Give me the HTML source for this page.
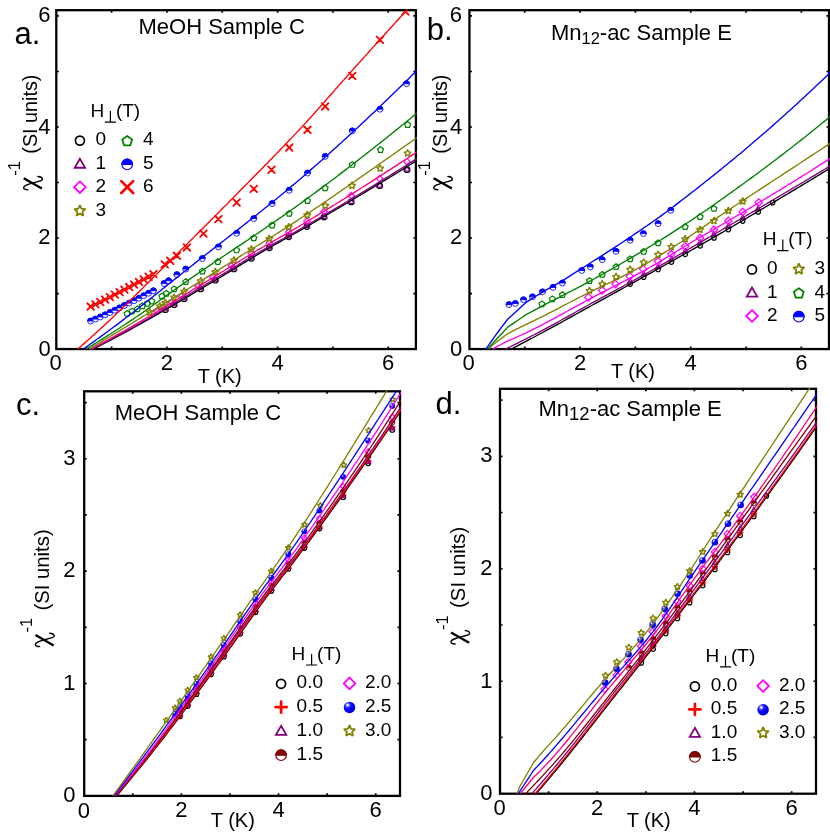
<!DOCTYPE html>
<html><head><meta charset="utf-8"><title>Inverse susceptibility</title>
<style>
html,body{margin:0;padding:0;background:#fff;}
body{width:830px;height:834px;overflow:hidden;font-family:"Liberation Sans", sans-serif;}
svg{display:block;}
</style></head><body>
<div id="fig" style="will-change:transform;width:830px;height:834px">
<svg width="830" height="834" viewBox="0 0 830 834" font-family='"Liberation Sans", sans-serif' fill="#000">
<defs><radialGradient id="ball" cx="0.34" cy="0.30" r="0.8"><stop offset="0" stop-color="#ffffff"/><stop offset="0.1" stop-color="#d0d0ff"/><stop offset="0.26" stop-color="#3030ff"/><stop offset="0.5" stop-color="#0000ff"/><stop offset="1" stop-color="#0000d8"/></radialGradient>
<clipPath id="clipa"><rect x="56.3" y="10.2" width="359.6" height="338.85"/></clipPath>
<clipPath id="clipoa"><rect x="55.4" y="9.3" width="361.4" height="340.65"/></clipPath>
<clipPath id="clipb"><rect x="469.45" y="10.2" width="359.55" height="338.85"/></clipPath>
<clipPath id="clipob"><rect x="468.55" y="9.3" width="361.35" height="340.65"/></clipPath>
<clipPath id="clipc"><rect x="84.2" y="391.3" width="315.8" height="404.6"/></clipPath>
<clipPath id="clipoc"><rect x="83.3" y="390.4" width="317.6" height="406.4"/></clipPath>
<clipPath id="clipd"><rect x="500" y="388.8" width="316" height="404.9"/></clipPath>
<clipPath id="clipod"><rect x="499.1" y="387.9" width="317.8" height="406.7"/></clipPath>
</defs>
<g clip-path="url(#clipa)">
<circle cx="165.29" cy="309.77" r="2.77" fill="none" stroke="#000000" stroke-width="1.16"/>
<circle cx="174.14" cy="304.63" r="2.77" fill="none" stroke="#000000" stroke-width="1.16"/>
<circle cx="184.1" cy="298.79" r="2.77" fill="none" stroke="#000000" stroke-width="1.16"/>
<circle cx="200.69" cy="288.98" r="2.77" fill="none" stroke="#000000" stroke-width="1.16"/>
<circle cx="215.35" cy="280.27" r="2.77" fill="none" stroke="#000000" stroke-width="1.16"/>
<circle cx="233.89" cy="269" r="2.77" fill="none" stroke="#000000" stroke-width="1.16"/>
<circle cx="251.31" cy="258.35" r="2.77" fill="none" stroke="#000000" stroke-width="1.16"/>
<circle cx="269.29" cy="247.78" r="2.77" fill="none" stroke="#000000" stroke-width="1.16"/>
<circle cx="288.66" cy="236.87" r="2.77" fill="none" stroke="#000000" stroke-width="1.16"/>
<circle cx="306.91" cy="226.59" r="2.77" fill="none" stroke="#000000" stroke-width="1.16"/>
<circle cx="324.06" cy="217.1" r="2.77" fill="none" stroke="#000000" stroke-width="1.16"/>
<circle cx="351.17" cy="201.91" r="2.77" fill="none" stroke="#000000" stroke-width="1.16"/>
<circle cx="379.66" cy="185.65" r="2.77" fill="none" stroke="#000000" stroke-width="1.16"/>
<circle cx="407.05" cy="169.7" r="2.77" fill="none" stroke="#000000" stroke-width="1.16"/>
<polygon points="165.29,306.18 162.5,311 168.07,311" fill="none" stroke="#800080" stroke-width="1.22" stroke-linejoin="miter"/>
<polygon points="174.14,300.91 171.35,305.74 176.92,305.74" fill="none" stroke="#800080" stroke-width="1.22" stroke-linejoin="miter"/>
<polygon points="184.1,294.95 181.31,299.77 186.88,299.77" fill="none" stroke="#800080" stroke-width="1.22" stroke-linejoin="miter"/>
<polygon points="200.69,284.97 197.91,289.8 203.48,289.8" fill="none" stroke="#800080" stroke-width="1.22" stroke-linejoin="miter"/>
<polygon points="215.35,276.2 212.57,281.02 218.14,281.02" fill="none" stroke="#800080" stroke-width="1.22" stroke-linejoin="miter"/>
<polygon points="233.89,264.95 231.1,269.77 236.67,269.77" fill="none" stroke="#800080" stroke-width="1.22" stroke-linejoin="miter"/>
<polygon points="251.31,254.44 248.53,259.26 254.1,259.26" fill="none" stroke="#800080" stroke-width="1.22" stroke-linejoin="miter"/>
<polygon points="269.29,244.02 266.51,248.84 272.08,248.84" fill="none" stroke="#800080" stroke-width="1.22" stroke-linejoin="miter"/>
<polygon points="288.66,233.2 285.87,238.02 291.44,238.02" fill="none" stroke="#800080" stroke-width="1.22" stroke-linejoin="miter"/>
<polygon points="306.91,222.91 304.13,227.73 309.7,227.73" fill="none" stroke="#800080" stroke-width="1.22" stroke-linejoin="miter"/>
<polygon points="324.06,213.52 321.28,218.35 326.85,218.35" fill="none" stroke="#800080" stroke-width="1.22" stroke-linejoin="miter"/>
<polygon points="351.17,198.45 348.39,203.27 353.96,203.27" fill="none" stroke="#800080" stroke-width="1.22" stroke-linejoin="miter"/>
<polygon points="379.66,182.24 376.88,187.06 382.45,187.06" fill="none" stroke="#800080" stroke-width="1.22" stroke-linejoin="miter"/>
<polygon points="407.05,166.26 404.26,171.08 409.83,171.08" fill="none" stroke="#800080" stroke-width="1.22" stroke-linejoin="miter"/>
<polygon points="157.26,307.96 160.53,311.23 157.26,314.49 154,311.23" fill="none" stroke="#ff00ff" stroke-width="1.22"/>
<polygon points="162.8,304.63 166.06,307.89 162.8,311.15 159.53,307.89" fill="none" stroke="#ff00ff" stroke-width="1.22"/>
<polygon points="171.65,299.26 174.91,302.52 171.65,305.78 168.39,302.52" fill="none" stroke="#ff00ff" stroke-width="1.22"/>
<polygon points="181.61,293.17 184.87,296.44 181.61,299.7 178.34,296.44" fill="none" stroke="#ff00ff" stroke-width="1.22"/>
<polygon points="198.2,283.01 201.47,286.27 198.2,289.53 194.94,286.27" fill="none" stroke="#ff00ff" stroke-width="1.22"/>
<polygon points="212.86,274.04 216.13,277.3 212.86,280.56 209.6,277.3" fill="none" stroke="#ff00ff" stroke-width="1.22"/>
<polygon points="231.4,262.53 234.66,265.79 231.4,269.05 228.14,265.79" fill="none" stroke="#ff00ff" stroke-width="1.22"/>
<polygon points="251.31,250.32 254.58,253.58 251.31,256.84 248.05,253.58" fill="none" stroke="#ff00ff" stroke-width="1.22"/>
<polygon points="269.29,239.82 272.56,243.09 269.29,246.35 266.03,243.09" fill="none" stroke="#ff00ff" stroke-width="1.22"/>
<polygon points="288.66,228.8 291.92,232.06 288.66,235.32 285.39,232.06" fill="none" stroke="#ff00ff" stroke-width="1.22"/>
<polygon points="306.91,218.06 310.18,221.32 306.91,224.59 303.65,221.32" fill="none" stroke="#ff00ff" stroke-width="1.22"/>
<polygon points="324.06,208.26 327.33,211.52 324.06,214.78 320.8,211.52" fill="none" stroke="#ff00ff" stroke-width="1.22"/>
<polygon points="351.17,192.45 354.43,195.71 351.17,198.97 347.91,195.71" fill="none" stroke="#ff00ff" stroke-width="1.22"/>
<polygon points="379.66,175.36 382.93,178.62 379.66,181.89 376.4,178.62" fill="none" stroke="#ff00ff" stroke-width="1.22"/>
<polygon points="407.05,158.42 410.31,161.68 407.05,164.94 403.79,161.68" fill="none" stroke="#ff00ff" stroke-width="1.22"/>
<polygon points="149.8,308.54 150.8,310.96 153.4,311.16 151.42,312.86 152.03,315.41 149.8,314.04 147.57,315.41 148.17,312.86 146.19,311.16 148.79,310.96" fill="none" stroke="#808000" stroke-width="1.35" stroke-linejoin="bevel"/>
<polygon points="159.75,302.46 160.76,304.87 163.36,305.08 161.38,306.78 161.98,309.32 159.75,307.96 157.52,309.32 158.13,306.78 156.15,305.08 158.75,304.87" fill="none" stroke="#808000" stroke-width="1.35" stroke-linejoin="bevel"/>
<polygon points="165.29,299.07 166.29,301.48 168.89,301.69 166.91,303.39 167.52,305.93 165.29,304.57 163.06,305.93 163.66,303.39 161.68,301.69 164.28,301.48" fill="none" stroke="#808000" stroke-width="1.35" stroke-linejoin="bevel"/>
<polygon points="174.14,293.64 175.14,296.05 177.75,296.26 175.76,297.96 176.37,300.5 174.14,299.14 171.91,300.5 172.51,297.96 170.53,296.26 173.13,296.05" fill="none" stroke="#808000" stroke-width="1.35" stroke-linejoin="bevel"/>
<polygon points="184.1,287.51 185.1,289.92 187.7,290.13 185.72,291.83 186.33,294.37 184.1,293.01 181.87,294.37 182.47,291.83 180.49,290.13 183.09,289.92" fill="none" stroke="#808000" stroke-width="1.35" stroke-linejoin="bevel"/>
<polygon points="200.69,277.25 201.7,279.66 204.3,279.87 202.32,281.57 202.92,284.11 200.69,282.75 198.46,284.11 199.07,281.57 197.09,279.87 199.69,279.66" fill="none" stroke="#808000" stroke-width="1.35" stroke-linejoin="bevel"/>
<polygon points="215.35,268.1 216.36,270.51 218.96,270.72 216.98,272.42 217.58,274.96 215.35,273.6 213.12,274.96 213.73,272.42 211.75,270.72 214.35,270.51" fill="none" stroke="#808000" stroke-width="1.35" stroke-linejoin="bevel"/>
<polygon points="233.89,256.46 234.89,258.87 237.49,259.08 235.51,260.78 236.12,263.32 233.89,261.96 231.66,263.32 232.26,260.78 230.28,259.08 232.88,258.87" fill="none" stroke="#808000" stroke-width="1.35" stroke-linejoin="bevel"/>
<polygon points="251.31,245.57 252.32,247.98 254.92,248.19 252.94,249.89 253.54,252.43 251.31,251.07 249.08,252.43 249.69,249.89 247.71,248.19 250.31,247.98" fill="none" stroke="#808000" stroke-width="1.35" stroke-linejoin="bevel"/>
<polygon points="269.29,234.93 270.3,237.34 272.9,237.55 270.92,239.25 271.52,241.79 269.29,240.43 267.06,241.79 267.67,239.25 265.69,237.55 268.29,237.34" fill="none" stroke="#808000" stroke-width="1.35" stroke-linejoin="bevel"/>
<polygon points="288.66,223.36 289.66,225.77 292.26,225.98 290.28,227.68 290.89,230.22 288.66,228.86 286.43,230.22 287.03,227.68 285.05,225.98 287.65,225.77" fill="none" stroke="#808000" stroke-width="1.35" stroke-linejoin="bevel"/>
<polygon points="307.19,211.33 308.19,213.74 310.8,213.95 308.81,215.65 309.42,218.19 307.19,216.83 304.96,218.19 305.57,215.65 303.58,213.95 306.19,213.74" fill="none" stroke="#808000" stroke-width="1.35" stroke-linejoin="bevel"/>
<polygon points="325.23,201.81 326.23,204.22 328.83,204.43 326.85,206.13 327.45,208.67 325.23,207.31 323,208.67 323.6,206.13 321.62,204.43 324.22,204.22" fill="none" stroke="#808000" stroke-width="1.35" stroke-linejoin="bevel"/>
<polygon points="352,181.83 353.01,184.24 355.61,184.45 353.63,186.15 354.23,188.69 352,187.33 349.77,188.69 350.38,186.15 348.39,184.45 351,184.24" fill="none" stroke="#808000" stroke-width="1.35" stroke-linejoin="bevel"/>
<polygon points="380.11,164.67 381.11,167.09 383.71,167.29 381.73,168.99 382.34,171.54 380.11,170.17 377.88,171.54 378.48,168.99 376.5,167.29 379.1,167.09" fill="none" stroke="#808000" stroke-width="1.35" stroke-linejoin="bevel"/>
<polygon points="407.55,149.46 408.55,151.88 411.15,152.08 409.17,153.78 409.78,156.32 407.55,154.96 405.32,156.32 405.92,153.78 403.94,152.08 406.54,151.88" fill="none" stroke="#808000" stroke-width="1.35" stroke-linejoin="bevel"/>
<polygon points="127.11,310.58 130.07,312.73 128.94,316.2 125.29,316.2 124.16,312.73" fill="none" stroke="#008000" stroke-width="1.22"/>
<polygon points="132.09,308.19 135.05,310.34 133.92,313.82 130.26,313.82 129.13,310.34" fill="none" stroke="#008000" stroke-width="1.22"/>
<polygon points="137.35,305.97 140.31,308.12 139.18,311.6 135.52,311.6 134.39,308.12" fill="none" stroke="#008000" stroke-width="1.22"/>
<polygon points="142.33,302.92 145.29,305.07 144.16,308.54 140.5,308.54 139.37,305.07" fill="none" stroke="#008000" stroke-width="1.22"/>
<polygon points="147.31,300.42 150.26,302.57 149.13,306.05 145.48,306.05 144.35,302.57" fill="none" stroke="#008000" stroke-width="1.22"/>
<polygon points="151.73,298.2 154.69,300.35 153.56,303.83 149.9,303.83 148.77,300.35" fill="none" stroke="#008000" stroke-width="1.22"/>
<polygon points="161.97,293.2 164.93,295.35 163.8,298.83 160.14,298.83 159.01,295.35" fill="none" stroke="#008000" stroke-width="1.22"/>
<polygon points="166.39,290.43 169.35,292.58 168.22,296.05 164.56,296.05 163.43,292.58" fill="none" stroke="#008000" stroke-width="1.22"/>
<polygon points="174.14,285.99 177.1,288.13 175.97,291.61 172.31,291.61 171.18,288.13" fill="none" stroke="#008000" stroke-width="1.22"/>
<polygon points="185.76,278.77 188.71,280.92 187.58,284.4 183.93,284.4 182.8,280.92" fill="none" stroke="#008000" stroke-width="1.22"/>
<polygon points="202.35,268.22 205.31,270.37 204.18,273.85 200.52,273.85 199.39,270.37" fill="none" stroke="#008000" stroke-width="1.22"/>
<polygon points="217.84,258.78 220.8,260.93 219.67,264.41 216.01,264.41 214.88,260.93" fill="none" stroke="#008000" stroke-width="1.22"/>
<polygon points="236.65,247.13 239.61,249.28 238.48,252.75 234.82,252.75 233.69,249.28" fill="none" stroke="#008000" stroke-width="1.22"/>
<polygon points="253.8,234.91 256.76,237.06 255.63,240.54 251.97,240.54 250.84,237.06" fill="none" stroke="#008000" stroke-width="1.22"/>
<polygon points="272.06,222.15 275.02,224.3 273.89,227.77 270.23,227.77 269.1,224.3" fill="none" stroke="#008000" stroke-width="1.22"/>
<polygon points="289.21,210.49 292.17,212.64 291.04,216.12 287.38,216.12 286.25,212.64" fill="none" stroke="#008000" stroke-width="1.22"/>
<polygon points="307.47,197.72 310.43,199.87 309.3,203.35 305.64,203.35 304.51,199.87" fill="none" stroke="#008000" stroke-width="1.22"/>
<polygon points="325.17,184.95 328.13,187.1 327,190.58 323.34,190.58 322.21,187.1" fill="none" stroke="#008000" stroke-width="1.22"/>
<polygon points="352.28,161.64 355.24,163.79 354.11,167.26 350.45,167.26 349.32,163.79" fill="none" stroke="#008000" stroke-width="1.22"/>
<polygon points="380.49,146.65 383.45,148.8 382.32,152.28 378.66,152.28 377.53,148.8" fill="none" stroke="#008000" stroke-width="1.22"/>
<polygon points="407.6,121.67 410.56,123.82 409.43,127.29 405.77,127.29 404.64,123.82" fill="none" stroke="#008000" stroke-width="1.22"/>
<circle cx="90.6" cy="321.02" r="2.93" fill="#fff" stroke="#0000ff" stroke-width="0.85"/><path d="M87.67 321.02 A2.93 2.93 0 0 1 93.53 321.02 Z" fill="#0000ff" stroke="#0000ff" stroke-width="0.85"/>
<circle cx="95.43" cy="319.12" r="2.93" fill="#fff" stroke="#0000ff" stroke-width="0.85"/><path d="M92.5 319.12 A2.93 2.93 0 0 1 98.36 319.12 Z" fill="#0000ff" stroke="#0000ff" stroke-width="0.85"/>
<circle cx="100.26" cy="317.01" r="2.93" fill="#fff" stroke="#0000ff" stroke-width="0.85"/><path d="M97.33 317.01 A2.93 2.93 0 0 1 103.19 317.01 Z" fill="#0000ff" stroke="#0000ff" stroke-width="0.85"/>
<circle cx="105.09" cy="314.81" r="2.93" fill="#fff" stroke="#0000ff" stroke-width="0.85"/><path d="M102.16 314.81 A2.93 2.93 0 0 1 108.02 314.81 Z" fill="#0000ff" stroke="#0000ff" stroke-width="0.85"/>
<circle cx="109.92" cy="312.55" r="2.93" fill="#fff" stroke="#0000ff" stroke-width="0.85"/><path d="M106.99 312.55 A2.93 2.93 0 0 1 112.85 312.55 Z" fill="#0000ff" stroke="#0000ff" stroke-width="0.85"/>
<circle cx="114.75" cy="310.24" r="2.93" fill="#fff" stroke="#0000ff" stroke-width="0.85"/><path d="M111.81 310.24 A2.93 2.93 0 0 1 117.68 310.24 Z" fill="#0000ff" stroke="#0000ff" stroke-width="0.85"/>
<circle cx="119.58" cy="307.89" r="2.93" fill="#fff" stroke="#0000ff" stroke-width="0.85"/><path d="M116.64 307.89 A2.93 2.93 0 0 1 122.51 307.89 Z" fill="#0000ff" stroke="#0000ff" stroke-width="0.85"/>
<circle cx="124.41" cy="305.51" r="2.93" fill="#fff" stroke="#0000ff" stroke-width="0.85"/><path d="M121.48 305.51 A2.93 2.93 0 0 1 127.35 305.51 Z" fill="#0000ff" stroke="#0000ff" stroke-width="0.85"/>
<circle cx="129.24" cy="303.11" r="2.93" fill="#fff" stroke="#0000ff" stroke-width="0.85"/><path d="M126.31 303.11 A2.93 2.93 0 0 1 132.18 303.11 Z" fill="#0000ff" stroke="#0000ff" stroke-width="0.85"/>
<circle cx="134.07" cy="300.68" r="2.93" fill="#fff" stroke="#0000ff" stroke-width="0.85"/><path d="M131.14 300.68 A2.93 2.93 0 0 1 137.01 300.68 Z" fill="#0000ff" stroke="#0000ff" stroke-width="0.85"/>
<circle cx="138.9" cy="298.23" r="2.93" fill="#fff" stroke="#0000ff" stroke-width="0.85"/><path d="M135.97 298.23 A2.93 2.93 0 0 1 141.84 298.23 Z" fill="#0000ff" stroke="#0000ff" stroke-width="0.85"/>
<circle cx="143.73" cy="295.76" r="2.93" fill="#fff" stroke="#0000ff" stroke-width="0.85"/><path d="M140.8 295.76 A2.93 2.93 0 0 1 146.67 295.76 Z" fill="#0000ff" stroke="#0000ff" stroke-width="0.85"/>
<circle cx="148.56" cy="293.27" r="2.93" fill="#fff" stroke="#0000ff" stroke-width="0.85"/><path d="M145.63 293.27 A2.93 2.93 0 0 1 151.5 293.27 Z" fill="#0000ff" stroke="#0000ff" stroke-width="0.85"/>
<circle cx="153.39" cy="290.76" r="2.93" fill="#fff" stroke="#0000ff" stroke-width="0.85"/><path d="M150.46 290.76 A2.93 2.93 0 0 1 156.33 290.76 Z" fill="#0000ff" stroke="#0000ff" stroke-width="0.85"/>
<circle cx="164.18" cy="283.54" r="2.93" fill="#fff" stroke="#0000ff" stroke-width="0.85"/><path d="M161.25 283.54 A2.93 2.93 0 0 1 167.11 283.54 Z" fill="#0000ff" stroke="#0000ff" stroke-width="0.85"/>
<circle cx="168.61" cy="280.77" r="2.93" fill="#fff" stroke="#0000ff" stroke-width="0.85"/><path d="M165.67 280.77 A2.93 2.93 0 0 1 171.54 280.77 Z" fill="#0000ff" stroke="#0000ff" stroke-width="0.85"/>
<circle cx="176.9" cy="274.66" r="2.93" fill="#fff" stroke="#0000ff" stroke-width="0.85"/><path d="M173.97 274.66 A2.93 2.93 0 0 1 179.84 274.66 Z" fill="#0000ff" stroke="#0000ff" stroke-width="0.85"/>
<circle cx="185.76" cy="269.11" r="2.93" fill="#fff" stroke="#0000ff" stroke-width="0.85"/><path d="M182.82 269.11 A2.93 2.93 0 0 1 188.69 269.11 Z" fill="#0000ff" stroke="#0000ff" stroke-width="0.85"/>
<circle cx="202.35" cy="258.56" r="2.93" fill="#fff" stroke="#0000ff" stroke-width="0.85"/><path d="M199.42 258.56 A2.93 2.93 0 0 1 205.29 258.56 Z" fill="#0000ff" stroke="#0000ff" stroke-width="0.85"/>
<circle cx="218.4" cy="246.91" r="2.93" fill="#fff" stroke="#0000ff" stroke-width="0.85"/><path d="M215.46 246.91 A2.93 2.93 0 0 1 221.33 246.91 Z" fill="#0000ff" stroke="#0000ff" stroke-width="0.85"/>
<circle cx="236.65" cy="233.31" r="2.93" fill="#fff" stroke="#0000ff" stroke-width="0.85"/><path d="M233.72 233.31 A2.93 2.93 0 0 1 239.59 233.31 Z" fill="#0000ff" stroke="#0000ff" stroke-width="0.85"/>
<circle cx="253.8" cy="218.59" r="2.93" fill="#fff" stroke="#0000ff" stroke-width="0.85"/><path d="M250.87 218.59 A2.93 2.93 0 0 1 256.74 218.59 Z" fill="#0000ff" stroke="#0000ff" stroke-width="0.85"/>
<circle cx="272.06" cy="203.61" r="2.93" fill="#fff" stroke="#0000ff" stroke-width="0.85"/><path d="M269.13 203.61 A2.93 2.93 0 0 1 274.99 203.61 Z" fill="#0000ff" stroke="#0000ff" stroke-width="0.85"/>
<circle cx="289.21" cy="190.28" r="2.93" fill="#fff" stroke="#0000ff" stroke-width="0.85"/><path d="M286.28 190.28 A2.93 2.93 0 0 1 292.14 190.28 Z" fill="#0000ff" stroke="#0000ff" stroke-width="0.85"/>
<circle cx="307.47" cy="173.07" r="2.93" fill="#fff" stroke="#0000ff" stroke-width="0.85"/><path d="M304.53 173.07 A2.93 2.93 0 0 1 310.4 173.07 Z" fill="#0000ff" stroke="#0000ff" stroke-width="0.85"/>
<circle cx="325.17" cy="156.42" r="2.93" fill="#fff" stroke="#0000ff" stroke-width="0.85"/><path d="M322.24 156.42 A2.93 2.93 0 0 1 328.1 156.42 Z" fill="#0000ff" stroke="#0000ff" stroke-width="0.85"/>
<circle cx="352.28" cy="130.88" r="2.93" fill="#fff" stroke="#0000ff" stroke-width="0.85"/><path d="M349.34 130.88 A2.93 2.93 0 0 1 355.21 130.88 Z" fill="#0000ff" stroke="#0000ff" stroke-width="0.85"/>
<circle cx="379.94" cy="109.23" r="2.93" fill="#fff" stroke="#0000ff" stroke-width="0.85"/><path d="M377.01 109.23 A2.93 2.93 0 0 1 382.87 109.23 Z" fill="#0000ff" stroke="#0000ff" stroke-width="0.85"/>
<circle cx="406.5" cy="83.7" r="2.93" fill="#fff" stroke="#0000ff" stroke-width="0.85"/><path d="M403.56 83.7 A2.93 2.93 0 0 1 409.43 83.7 Z" fill="#0000ff" stroke="#0000ff" stroke-width="0.85"/>
<path d="M87.31 303.23L93.89 309.82M87.31 309.82L93.89 303.23" stroke="#ff0000" stroke-width="1.85" fill="none" stroke-linecap="round"/>
<path d="M92.14 301.04L98.72 307.63M92.14 307.63L98.72 301.04" stroke="#ff0000" stroke-width="1.85" fill="none" stroke-linecap="round"/>
<path d="M96.97 298.69L103.55 305.28M96.97 305.28L103.55 298.69" stroke="#ff0000" stroke-width="1.85" fill="none" stroke-linecap="round"/>
<path d="M101.8 296.28L108.38 302.87M101.8 302.87L108.38 296.28" stroke="#ff0000" stroke-width="1.85" fill="none" stroke-linecap="round"/>
<path d="M106.63 293.83L113.21 300.42M106.63 300.42L113.21 293.83" stroke="#ff0000" stroke-width="1.85" fill="none" stroke-linecap="round"/>
<path d="M111.46 291.35L118.04 297.93M111.46 297.93L118.04 291.35" stroke="#ff0000" stroke-width="1.85" fill="none" stroke-linecap="round"/>
<path d="M116.28 288.84L122.87 295.43M116.28 295.43L122.87 288.84" stroke="#ff0000" stroke-width="1.85" fill="none" stroke-linecap="round"/>
<path d="M121.12 286.31L127.71 292.9M121.12 292.9L127.71 286.31" stroke="#ff0000" stroke-width="1.85" fill="none" stroke-linecap="round"/>
<path d="M125.95 283.76L132.54 290.35M125.95 290.35L132.54 283.76" stroke="#ff0000" stroke-width="1.85" fill="none" stroke-linecap="round"/>
<path d="M130.78 281.2L137.37 287.78M130.78 287.78L137.37 281.2" stroke="#ff0000" stroke-width="1.85" fill="none" stroke-linecap="round"/>
<path d="M135.61 278.62L142.2 285.21M135.61 285.21L142.2 278.62" stroke="#ff0000" stroke-width="1.85" fill="none" stroke-linecap="round"/>
<path d="M140.44 276.03L147.03 282.62M140.44 282.62L147.03 276.03" stroke="#ff0000" stroke-width="1.85" fill="none" stroke-linecap="round"/>
<path d="M145.27 273.43L151.86 280.01M145.27 280.01L151.86 273.43" stroke="#ff0000" stroke-width="1.85" fill="none" stroke-linecap="round"/>
<path d="M150.1 270.81L156.69 277.4M150.1 277.4L156.69 270.81" stroke="#ff0000" stroke-width="1.85" fill="none" stroke-linecap="round"/>
<path d="M161.44 261.1L168.03 267.69M161.44 267.69L168.03 261.1" stroke="#ff0000" stroke-width="1.85" fill="none" stroke-linecap="round"/>
<path d="M166.97 257.49L173.56 264.08M166.97 264.08L173.56 257.49" stroke="#ff0000" stroke-width="1.85" fill="none" stroke-linecap="round"/>
<path d="M173.61 252.49L180.2 259.08M173.61 259.08L180.2 252.49" stroke="#ff0000" stroke-width="1.85" fill="none" stroke-linecap="round"/>
<path d="M183.57 244.17L190.16 250.76M183.57 250.76L190.16 244.17" stroke="#ff0000" stroke-width="1.85" fill="none" stroke-linecap="round"/>
<path d="M200.17 230.29L206.75 236.88M200.17 236.88L206.75 230.29" stroke="#ff0000" stroke-width="1.85" fill="none" stroke-linecap="round"/>
<path d="M215.1 215.86L221.69 222.44M215.1 222.44L221.69 215.86" stroke="#ff0000" stroke-width="1.85" fill="none" stroke-linecap="round"/>
<path d="M233.36 199.2L239.95 205.79M233.36 205.79L239.95 199.2" stroke="#ff0000" stroke-width="1.85" fill="none" stroke-linecap="round"/>
<path d="M250.51 185.6L257.1 192.19M250.51 192.19L257.1 185.6" stroke="#ff0000" stroke-width="1.85" fill="none" stroke-linecap="round"/>
<path d="M268.21 166.45L274.8 173.04M268.21 173.04L274.8 166.45" stroke="#ff0000" stroke-width="1.85" fill="none" stroke-linecap="round"/>
<path d="M285.92 144.24L292.5 150.83M285.92 150.83L292.5 144.24" stroke="#ff0000" stroke-width="1.85" fill="none" stroke-linecap="round"/>
<path d="M304.17 126.48L310.76 133.07M304.17 133.07L310.76 126.48" stroke="#ff0000" stroke-width="1.85" fill="none" stroke-linecap="round"/>
<path d="M321.88 103.17L328.46 109.75M321.88 109.75L328.46 103.17" stroke="#ff0000" stroke-width="1.85" fill="none" stroke-linecap="round"/>
<path d="M348.98 72.63L355.57 79.22M348.98 79.22L355.57 72.63" stroke="#ff0000" stroke-width="1.85" fill="none" stroke-linecap="round"/>
<path d="M376.65 36.55L383.23 43.14M376.65 43.14L383.23 36.55" stroke="#ff0000" stroke-width="1.85" fill="none" stroke-linecap="round"/>
<path d="M402.09 8.24L408.68 14.83M402.09 14.83L408.68 8.24" stroke="#ff0000" stroke-width="1.85" fill="none" stroke-linecap="round"/>
</g>
<g clip-path="url(#clipb)">
<circle cx="630.14" cy="284.06" r="2.25" fill="none" stroke="#000000" stroke-width="1.16"/>
<circle cx="643.69" cy="277.17" r="2.25" fill="none" stroke="#000000" stroke-width="1.16"/>
<circle cx="658.08" cy="269.54" r="2.25" fill="none" stroke="#000000" stroke-width="1.16"/>
<circle cx="671.35" cy="262.1" r="2.25" fill="none" stroke="#000000" stroke-width="1.16"/>
<circle cx="685.18" cy="254.32" r="2.25" fill="none" stroke="#000000" stroke-width="1.16"/>
<circle cx="700.12" cy="245.84" r="2.25" fill="none" stroke="#000000" stroke-width="1.16"/>
<circle cx="713.94" cy="237.91" r="2.25" fill="none" stroke="#000000" stroke-width="1.16"/>
<circle cx="728.33" cy="229.56" r="2.25" fill="none" stroke="#000000" stroke-width="1.16"/>
<circle cx="742.71" cy="221.12" r="2.25" fill="none" stroke="#000000" stroke-width="1.16"/>
<circle cx="758.2" cy="211.92" r="2.25" fill="none" stroke="#000000" stroke-width="1.16"/>
<circle cx="772.58" cy="202.63" r="2.25" fill="none" stroke="#000000" stroke-width="1.16"/>
<polygon points="630.14,278.64 627.73,282.82 632.56,282.82" fill="none" stroke="#800080" stroke-width="1.22" stroke-linejoin="miter"/>
<polygon points="643.69,271.82 641.28,276 646.11,276" fill="none" stroke="#800080" stroke-width="1.22" stroke-linejoin="miter"/>
<polygon points="658.08,264.15 655.66,268.33 660.49,268.33" fill="none" stroke="#800080" stroke-width="1.22" stroke-linejoin="miter"/>
<polygon points="671.35,256.53 668.94,260.71 673.77,260.71" fill="none" stroke="#800080" stroke-width="1.22" stroke-linejoin="miter"/>
<polygon points="685.18,248.46 682.77,252.64 687.59,252.64" fill="none" stroke="#800080" stroke-width="1.22" stroke-linejoin="miter"/>
<polygon points="700.12,239.7 697.7,243.88 702.53,243.88" fill="none" stroke="#800080" stroke-width="1.22" stroke-linejoin="miter"/>
<polygon points="713.94,231.67 711.53,235.85 716.36,235.85" fill="none" stroke="#800080" stroke-width="1.22" stroke-linejoin="miter"/>
<polygon points="728.33,223.37 725.91,227.54 730.74,227.54" fill="none" stroke="#800080" stroke-width="1.22" stroke-linejoin="miter"/>
<polygon points="742.71,214.98 740.29,219.16 745.12,219.16" fill="none" stroke="#800080" stroke-width="1.22" stroke-linejoin="miter"/>
<polygon points="758.2,205.91 755.78,210.09 760.61,210.09" fill="none" stroke="#800080" stroke-width="1.22" stroke-linejoin="miter"/>
<polygon points="588.38,293.69 592.11,297.42 588.38,301.15 584.65,297.42" fill="none" stroke="#ff00ff" stroke-width="1.22"/>
<polygon points="602.21,286.7 605.94,290.43 602.21,294.16 598.48,290.43" fill="none" stroke="#ff00ff" stroke-width="1.22"/>
<polygon points="615.48,280.37 619.21,284.1 615.48,287.83 611.75,284.1" fill="none" stroke="#ff00ff" stroke-width="1.22"/>
<polygon points="629.86,272.6 633.59,276.33 629.86,280.06 626.14,276.33" fill="none" stroke="#ff00ff" stroke-width="1.22"/>
<polygon points="643.14,265.38 646.87,269.11 643.14,272.84 639.41,269.11" fill="none" stroke="#ff00ff" stroke-width="1.22"/>
<polygon points="658.08,257.61 661.8,261.34 658.08,265.07 654.35,261.34" fill="none" stroke="#ff00ff" stroke-width="1.22"/>
<polygon points="671.35,250.39 675.08,254.12 671.35,257.85 667.62,254.12" fill="none" stroke="#ff00ff" stroke-width="1.22"/>
<polygon points="685.18,242.62 688.91,246.35 685.18,250.08 681.45,246.35" fill="none" stroke="#ff00ff" stroke-width="1.22"/>
<polygon points="700.12,234.3 703.84,238.02 700.12,241.75 696.39,238.02" fill="none" stroke="#ff00ff" stroke-width="1.22"/>
<polygon points="713.94,225.97 717.67,229.7 713.94,233.43 710.22,229.7" fill="none" stroke="#ff00ff" stroke-width="1.22"/>
<polygon points="728.33,217.09 732.05,220.82 728.33,224.54 724.6,220.82" fill="none" stroke="#ff00ff" stroke-width="1.22"/>
<polygon points="742.71,208.2 746.44,211.93 742.71,215.66 738.98,211.93" fill="none" stroke="#ff00ff" stroke-width="1.22"/>
<polygon points="758.75,198.77 762.48,202.5 758.75,206.22 755.02,202.5" fill="none" stroke="#ff00ff" stroke-width="1.22"/>
<polygon points="589.48,286.97 590.49,289.38 593.09,289.59 591.11,291.29 591.71,293.83 589.48,292.47 587.25,293.83 587.86,291.29 585.88,289.59 588.48,289.38" fill="none" stroke="#808000" stroke-width="1.35" stroke-linejoin="bevel"/>
<polygon points="602.21,280.31 603.21,282.72 605.81,282.93 603.83,284.63 604.44,287.17 602.21,285.81 599.98,287.17 600.58,284.63 598.6,282.93 601.2,282.72" fill="none" stroke="#808000" stroke-width="1.35" stroke-linejoin="bevel"/>
<polygon points="616.04,273.09 617.04,275.5 619.64,275.71 617.66,277.41 618.27,279.95 616.04,278.59 613.81,279.95 614.41,277.41 612.43,275.71 615.03,275.5" fill="none" stroke="#808000" stroke-width="1.35" stroke-linejoin="bevel"/>
<polygon points="630.14,265.87 631.14,268.29 633.75,268.49 631.76,270.19 632.37,272.74 630.14,271.37 627.91,272.74 628.52,270.19 626.53,268.49 629.14,268.29" fill="none" stroke="#808000" stroke-width="1.35" stroke-linejoin="bevel"/>
<polygon points="643.69,258.66 644.7,261.07 647.3,261.28 645.32,262.98 645.92,265.52 643.69,264.16 641.46,265.52 642.07,262.98 640.09,261.28 642.69,261.07" fill="none" stroke="#808000" stroke-width="1.35" stroke-linejoin="bevel"/>
<polygon points="658.08,250.89 659.08,253.3 661.68,253.51 659.7,255.21 660.3,257.75 658.08,256.39 655.85,257.75 656.45,255.21 654.47,253.51 657.07,253.3" fill="none" stroke="#808000" stroke-width="1.35" stroke-linejoin="bevel"/>
<polygon points="671.35,243.11 672.35,245.53 674.96,245.73 672.97,247.43 673.58,249.97 671.35,248.61 669.12,249.97 669.73,247.43 667.74,245.73 670.35,245.53" fill="none" stroke="#808000" stroke-width="1.35" stroke-linejoin="bevel"/>
<polygon points="685.18,235.34 686.18,237.75 688.79,237.96 686.8,239.66 687.41,242.2 685.18,240.84 682.95,242.2 683.56,239.66 681.57,237.96 684.18,237.75" fill="none" stroke="#808000" stroke-width="1.35" stroke-linejoin="bevel"/>
<polygon points="700.12,225.9 701.12,228.32 703.72,228.53 701.74,230.22 702.34,232.77 700.12,231.4 697.89,232.77 698.49,230.22 696.51,228.53 699.11,228.32" fill="none" stroke="#808000" stroke-width="1.35" stroke-linejoin="bevel"/>
<polygon points="713.94,217.02 714.95,219.43 717.55,219.64 715.57,221.34 716.17,223.88 713.94,222.52 711.71,223.88 712.32,221.34 710.34,219.64 712.94,219.43" fill="none" stroke="#808000" stroke-width="1.35" stroke-linejoin="bevel"/>
<polygon points="728.33,207.03 729.33,209.44 731.93,209.65 729.95,211.35 730.56,213.89 728.33,212.53 726.1,213.89 726.7,211.35 724.72,209.65 727.32,209.44" fill="none" stroke="#808000" stroke-width="1.35" stroke-linejoin="bevel"/>
<polygon points="742.71,197.59 743.71,200.01 746.32,200.21 744.33,201.91 744.94,204.45 742.71,203.09 740.48,204.45 741.08,201.91 739.1,200.21 741.7,200.01" fill="none" stroke="#808000" stroke-width="1.35" stroke-linejoin="bevel"/>
<polygon points="541.91,300.97 544.87,303.12 543.74,306.6 540.08,306.6 538.95,303.12" fill="none" stroke="#008000" stroke-width="1.22"/>
<polygon points="552.42,295.98 555.38,298.13 554.25,301.61 550.59,301.61 549.46,298.13" fill="none" stroke="#008000" stroke-width="1.22"/>
<polygon points="562.38,291.81 565.34,293.96 564.21,297.44 560.55,297.44 559.42,293.96" fill="none" stroke="#008000" stroke-width="1.22"/>
<polygon points="589.48,277.66 592.44,279.81 591.31,283.29 587.66,283.29 586.53,279.81" fill="none" stroke="#008000" stroke-width="1.22"/>
<polygon points="602.21,271.55 605.17,273.7 604.04,277.18 600.38,277.18 599.25,273.7" fill="none" stroke="#008000" stroke-width="1.22"/>
<polygon points="616.04,263.78 618.99,265.93 617.86,269.41 614.21,269.41 613.08,265.93" fill="none" stroke="#008000" stroke-width="1.22"/>
<polygon points="630.14,256.01 633.1,258.16 631.97,261.64 628.31,261.64 627.18,258.16" fill="none" stroke="#008000" stroke-width="1.22"/>
<polygon points="643.69,248.51 646.65,250.66 645.52,254.14 641.87,254.14 640.73,250.66" fill="none" stroke="#008000" stroke-width="1.22"/>
<polygon points="658.08,239.91 661.03,242.06 659.9,245.54 656.25,245.54 655.12,242.06" fill="none" stroke="#008000" stroke-width="1.22"/>
<polygon points="685.18,223.81 688.14,225.96 687.01,229.44 683.35,229.44 682.22,225.96" fill="none" stroke="#008000" stroke-width="1.22"/>
<polygon points="700.12,213.82 703.07,215.97 701.94,219.45 698.29,219.45 697.16,215.97" fill="none" stroke="#008000" stroke-width="1.22"/>
<polygon points="713.94,205.49 716.9,207.64 715.77,211.12 712.12,211.12 710.99,207.64" fill="none" stroke="#008000" stroke-width="1.22"/>
<circle cx="508.95" cy="304.64" r="2.93" fill="#fff" stroke="#0000ff" stroke-width="0.85"/><path d="M506.01 304.64 A2.93 2.93 0 0 1 511.88 304.64 Z" fill="#0000ff" stroke="#0000ff" stroke-width="0.85"/>
<circle cx="515.36" cy="303.53" r="2.93" fill="#fff" stroke="#0000ff" stroke-width="0.85"/><path d="M512.43 303.53 A2.93 2.93 0 0 1 518.3 303.53 Z" fill="#0000ff" stroke="#0000ff" stroke-width="0.85"/>
<circle cx="523.49" cy="299.81" r="2.93" fill="#fff" stroke="#0000ff" stroke-width="0.85"/><path d="M520.56 299.81 A2.93 2.93 0 0 1 526.43 299.81 Z" fill="#0000ff" stroke="#0000ff" stroke-width="0.85"/>
<circle cx="532.51" cy="296.87" r="2.93" fill="#fff" stroke="#0000ff" stroke-width="0.85"/><path d="M529.58 296.87 A2.93 2.93 0 0 1 535.44 296.87 Z" fill="#0000ff" stroke="#0000ff" stroke-width="0.85"/>
<circle cx="542.47" cy="291.87" r="2.93" fill="#fff" stroke="#0000ff" stroke-width="0.85"/><path d="M539.53 291.87 A2.93 2.93 0 0 1 545.4 291.87 Z" fill="#0000ff" stroke="#0000ff" stroke-width="0.85"/>
<circle cx="552.98" cy="287.43" r="2.93" fill="#fff" stroke="#0000ff" stroke-width="0.85"/><path d="M550.04 287.43 A2.93 2.93 0 0 1 555.91 287.43 Z" fill="#0000ff" stroke="#0000ff" stroke-width="0.85"/>
<circle cx="562.38" cy="282.99" r="2.93" fill="#fff" stroke="#0000ff" stroke-width="0.85"/><path d="M559.45 282.99 A2.93 2.93 0 0 1 565.31 282.99 Z" fill="#0000ff" stroke="#0000ff" stroke-width="0.85"/>
<circle cx="581.74" cy="270.5" r="2.93" fill="#fff" stroke="#0000ff" stroke-width="0.85"/><path d="M578.81 270.5 A2.93 2.93 0 0 1 584.67 270.5 Z" fill="#0000ff" stroke="#0000ff" stroke-width="0.85"/>
<circle cx="590.31" cy="266.89" r="2.93" fill="#fff" stroke="#0000ff" stroke-width="0.85"/><path d="M587.38 266.89 A2.93 2.93 0 0 1 593.25 266.89 Z" fill="#0000ff" stroke="#0000ff" stroke-width="0.85"/>
<circle cx="602.21" cy="259.67" r="2.93" fill="#fff" stroke="#0000ff" stroke-width="0.85"/><path d="M599.27 259.67 A2.93 2.93 0 0 1 605.14 259.67 Z" fill="#0000ff" stroke="#0000ff" stroke-width="0.85"/>
<circle cx="616.04" cy="251.35" r="2.93" fill="#fff" stroke="#0000ff" stroke-width="0.85"/><path d="M613.1 251.35 A2.93 2.93 0 0 1 618.97 251.35 Z" fill="#0000ff" stroke="#0000ff" stroke-width="0.85"/>
<circle cx="630.14" cy="240.24" r="2.93" fill="#fff" stroke="#0000ff" stroke-width="0.85"/><path d="M627.21 240.24 A2.93 2.93 0 0 1 633.08 240.24 Z" fill="#0000ff" stroke="#0000ff" stroke-width="0.85"/>
<circle cx="643.42" cy="233.58" r="2.93" fill="#fff" stroke="#0000ff" stroke-width="0.85"/><path d="M640.48 233.58 A2.93 2.93 0 0 1 646.35 233.58 Z" fill="#0000ff" stroke="#0000ff" stroke-width="0.85"/>
<circle cx="658.08" cy="223.59" r="2.93" fill="#fff" stroke="#0000ff" stroke-width="0.85"/><path d="M655.14 223.59 A2.93 2.93 0 0 1 661.01 223.59 Z" fill="#0000ff" stroke="#0000ff" stroke-width="0.85"/>
<circle cx="670.8" cy="210.27" r="2.93" fill="#fff" stroke="#0000ff" stroke-width="0.85"/><path d="M667.86 210.27 A2.93 2.93 0 0 1 673.73 210.27 Z" fill="#0000ff" stroke="#0000ff" stroke-width="0.85"/>
</g>
<g clip-path="url(#clipc)">
<circle cx="179.91" cy="716.38" r="2.33" fill="none" stroke="#000000" stroke-width="1.16"/>
<circle cx="187.69" cy="705.97" r="2.33" fill="none" stroke="#000000" stroke-width="1.16"/>
<circle cx="196.43" cy="694.15" r="2.33" fill="none" stroke="#000000" stroke-width="1.16"/>
<circle cx="211.01" cy="674.29" r="2.33" fill="none" stroke="#000000" stroke-width="1.16"/>
<circle cx="223.88" cy="656.66" r="2.33" fill="none" stroke="#000000" stroke-width="1.16"/>
<circle cx="240.16" cy="633.83" r="2.33" fill="none" stroke="#000000" stroke-width="1.16"/>
<circle cx="255.46" cy="612.28" r="2.33" fill="none" stroke="#000000" stroke-width="1.16"/>
<circle cx="271.25" cy="590.88" r="2.33" fill="none" stroke="#000000" stroke-width="1.16"/>
<circle cx="288.26" cy="568.88" r="2.33" fill="none" stroke="#000000" stroke-width="1.16"/>
<circle cx="304.29" cy="548" r="2.33" fill="none" stroke="#000000" stroke-width="1.16"/>
<circle cx="319.35" cy="528.54" r="2.33" fill="none" stroke="#000000" stroke-width="1.16"/>
<circle cx="343.16" cy="497.2" r="2.33" fill="none" stroke="#000000" stroke-width="1.16"/>
<circle cx="368.18" cy="463.37" r="2.33" fill="none" stroke="#000000" stroke-width="1.16"/>
<circle cx="392.23" cy="429.88" r="2.33" fill="none" stroke="#000000" stroke-width="1.16"/>
<path d="M177.51 715.38L182.31 715.38M179.91 712.98L179.91 717.78" stroke="#ff0000" stroke-width="1.84" fill="none" stroke-linecap="round"/>
<path d="M185.29 704.93L190.09 704.93M187.69 702.53L187.69 707.33" stroke="#ff0000" stroke-width="1.84" fill="none" stroke-linecap="round"/>
<path d="M194.03 693.07L198.83 693.07M196.43 690.67L196.43 695.47" stroke="#ff0000" stroke-width="1.84" fill="none" stroke-linecap="round"/>
<path d="M208.61 673.15L213.41 673.15M211.01 670.75L211.01 675.55" stroke="#ff0000" stroke-width="1.84" fill="none" stroke-linecap="round"/>
<path d="M221.48 655.48L226.28 655.48M223.88 653.08L223.88 657.88" stroke="#ff0000" stroke-width="1.84" fill="none" stroke-linecap="round"/>
<path d="M237.76 632.61L242.56 632.61M240.16 630.21L240.16 635.01" stroke="#ff0000" stroke-width="1.84" fill="none" stroke-linecap="round"/>
<path d="M253.06 611.07L257.86 611.07M255.46 608.67L255.46 613.47" stroke="#ff0000" stroke-width="1.84" fill="none" stroke-linecap="round"/>
<path d="M268.85 589.71L273.65 589.71M271.25 587.31L271.25 592.11" stroke="#ff0000" stroke-width="1.84" fill="none" stroke-linecap="round"/>
<path d="M285.86 567.67L290.66 567.67M288.26 565.27L288.26 570.07" stroke="#ff0000" stroke-width="1.84" fill="none" stroke-linecap="round"/>
<path d="M301.89 546.66L306.69 546.66M304.29 544.26L304.29 549.06" stroke="#ff0000" stroke-width="1.84" fill="none" stroke-linecap="round"/>
<path d="M316.95 526.94L321.75 526.94M319.35 524.54L319.35 529.34" stroke="#ff0000" stroke-width="1.84" fill="none" stroke-linecap="round"/>
<path d="M340.76 495.21L345.56 495.21M343.16 492.81L343.16 497.61" stroke="#ff0000" stroke-width="1.84" fill="none" stroke-linecap="round"/>
<path d="M365.78 461.03L370.58 461.03M368.18 458.63L368.18 463.43" stroke="#ff0000" stroke-width="1.84" fill="none" stroke-linecap="round"/>
<path d="M389.83 427.26L394.63 427.26M392.23 424.86L392.23 429.66" stroke="#ff0000" stroke-width="1.84" fill="none" stroke-linecap="round"/>
<polygon points="179.91,711.82 177.4,716.16 182.42,716.16" fill="none" stroke="#800080" stroke-width="1.22" stroke-linejoin="miter"/>
<polygon points="187.69,701.16 185.18,705.5 190.19,705.5" fill="none" stroke="#800080" stroke-width="1.22" stroke-linejoin="miter"/>
<polygon points="196.43,689.08 193.92,693.42 198.94,693.42" fill="none" stroke="#800080" stroke-width="1.22" stroke-linejoin="miter"/>
<polygon points="211.01,668.89 208.5,673.23 213.51,673.23" fill="none" stroke="#800080" stroke-width="1.22" stroke-linejoin="miter"/>
<polygon points="223.88,651.12 221.37,655.46 226.39,655.46" fill="none" stroke="#800080" stroke-width="1.22" stroke-linejoin="miter"/>
<polygon points="240.16,628.35 237.65,632.68 242.66,632.68" fill="none" stroke="#800080" stroke-width="1.22" stroke-linejoin="miter"/>
<polygon points="255.46,607.07 252.95,611.41 257.97,611.41" fill="none" stroke="#800080" stroke-width="1.22" stroke-linejoin="miter"/>
<polygon points="271.25,585.98 268.74,590.32 273.76,590.32" fill="none" stroke="#800080" stroke-width="1.22" stroke-linejoin="miter"/>
<polygon points="288.26,564.16 285.75,568.5 290.76,568.5" fill="none" stroke="#800080" stroke-width="1.22" stroke-linejoin="miter"/>
<polygon points="304.29,543.23 301.78,547.57 306.8,547.57" fill="none" stroke="#800080" stroke-width="1.22" stroke-linejoin="miter"/>
<polygon points="319.35,523.98 316.84,528.32 321.86,528.32" fill="none" stroke="#800080" stroke-width="1.22" stroke-linejoin="miter"/>
<polygon points="343.16,492.86 340.65,497.2 345.66,497.2" fill="none" stroke="#800080" stroke-width="1.22" stroke-linejoin="miter"/>
<polygon points="368.18,459.15 365.67,463.48 370.68,463.48" fill="none" stroke="#800080" stroke-width="1.22" stroke-linejoin="miter"/>
<polygon points="392.23,425.62 389.72,429.96 394.73,429.96" fill="none" stroke="#800080" stroke-width="1.22" stroke-linejoin="miter"/>
<circle cx="179.91" cy="712.74" r="2.56" fill="#fff" stroke="#800000" stroke-width="0.85"/><path d="M177.36 712.74 A2.56 2.56 0 0 1 182.47 712.74 Z" fill="#800000" stroke="#800000" stroke-width="0.85"/>
<circle cx="187.69" cy="701.96" r="2.56" fill="#fff" stroke="#800000" stroke-width="0.85"/><path d="M185.13 701.96 A2.56 2.56 0 0 1 190.24 701.96 Z" fill="#800000" stroke="#800000" stroke-width="0.85"/>
<circle cx="196.43" cy="689.75" r="2.56" fill="#fff" stroke="#800000" stroke-width="0.85"/><path d="M193.88 689.75 A2.56 2.56 0 0 1 198.99 689.75 Z" fill="#800000" stroke="#800000" stroke-width="0.85"/>
<circle cx="211.01" cy="669.34" r="2.56" fill="#fff" stroke="#800000" stroke-width="0.85"/><path d="M208.45 669.34 A2.56 2.56 0 0 1 213.56 669.34 Z" fill="#800000" stroke="#800000" stroke-width="0.85"/>
<circle cx="223.88" cy="651.36" r="2.56" fill="#fff" stroke="#800000" stroke-width="0.85"/><path d="M221.33 651.36 A2.56 2.56 0 0 1 226.44 651.36 Z" fill="#800000" stroke="#800000" stroke-width="0.85"/>
<circle cx="240.16" cy="628.27" r="2.56" fill="#fff" stroke="#800000" stroke-width="0.85"/><path d="M237.6 628.27 A2.56 2.56 0 0 1 242.71 628.27 Z" fill="#800000" stroke="#800000" stroke-width="0.85"/>
<circle cx="255.46" cy="606.81" r="2.56" fill="#fff" stroke="#800000" stroke-width="0.85"/><path d="M252.91 606.81 A2.56 2.56 0 0 1 258.02 606.81 Z" fill="#800000" stroke="#800000" stroke-width="0.85"/>
<circle cx="271.25" cy="585.74" r="2.56" fill="#fff" stroke="#800000" stroke-width="0.85"/><path d="M268.7 585.74 A2.56 2.56 0 0 1 273.81 585.74 Z" fill="#800000" stroke="#800000" stroke-width="0.85"/>
<circle cx="288.26" cy="563.93" r="2.56" fill="#fff" stroke="#800000" stroke-width="0.85"/><path d="M285.7 563.93 A2.56 2.56 0 0 1 290.81 563.93 Z" fill="#800000" stroke="#800000" stroke-width="0.85"/>
<circle cx="304.29" cy="542.74" r="2.56" fill="#fff" stroke="#800000" stroke-width="0.85"/><path d="M301.73 542.74 A2.56 2.56 0 0 1 306.84 542.74 Z" fill="#800000" stroke="#800000" stroke-width="0.85"/>
<circle cx="319.35" cy="523.24" r="2.56" fill="#fff" stroke="#800000" stroke-width="0.85"/><path d="M316.79 523.24 A2.56 2.56 0 0 1 321.9 523.24 Z" fill="#800000" stroke="#800000" stroke-width="0.85"/>
<circle cx="343.16" cy="491.57" r="2.56" fill="#fff" stroke="#800000" stroke-width="0.85"/><path d="M340.6 491.57 A2.56 2.56 0 0 1 345.71 491.57 Z" fill="#800000" stroke="#800000" stroke-width="0.85"/>
<circle cx="368.18" cy="457.02" r="2.56" fill="#fff" stroke="#800000" stroke-width="0.85"/><path d="M365.62 457.02 A2.56 2.56 0 0 1 370.73 457.02 Z" fill="#800000" stroke="#800000" stroke-width="0.85"/>
<circle cx="392.23" cy="422.45" r="2.56" fill="#fff" stroke="#800000" stroke-width="0.85"/><path d="M389.67 422.45 A2.56 2.56 0 0 1 394.78 422.45 Z" fill="#800000" stroke="#800000" stroke-width="0.85"/>
<polygon points="175.05,714.17 177.85,716.97 175.05,719.76 172.26,716.97" fill="none" stroke="#ff00ff" stroke-width="1.22"/>
<polygon points="179.91,707.4 182.71,710.2 179.91,712.99 177.12,710.2" fill="none" stroke="#ff00ff" stroke-width="1.22"/>
<polygon points="187.69,696.5 190.48,699.3 187.69,702.09 184.89,699.3" fill="none" stroke="#ff00ff" stroke-width="1.22"/>
<polygon points="196.43,684.17 199.23,686.97 196.43,689.76 193.63,686.97" fill="none" stroke="#ff00ff" stroke-width="1.22"/>
<polygon points="211.01,663.59 213.8,666.39 211.01,669.19 208.21,666.39" fill="none" stroke="#ff00ff" stroke-width="1.22"/>
<polygon points="223.88,645.4 226.68,648.2 223.88,650.99 221.08,648.2" fill="none" stroke="#ff00ff" stroke-width="1.22"/>
<polygon points="240.16,622.09 242.95,624.88 240.16,627.68 237.36,624.88" fill="none" stroke="#ff00ff" stroke-width="1.22"/>
<polygon points="255.46,600.49 258.26,603.29 255.46,606.09 252.66,603.29" fill="none" stroke="#ff00ff" stroke-width="1.22"/>
<polygon points="271.25,579.29 274.05,582.09 271.25,584.89 268.45,582.09" fill="none" stroke="#ff00ff" stroke-width="1.22"/>
<polygon points="288.26,557.01 291.05,559.81 288.26,562.6 285.46,559.81" fill="none" stroke="#ff00ff" stroke-width="1.22"/>
<polygon points="304.29,535.15 307.08,537.95 304.29,540.75 301.49,537.95" fill="none" stroke="#ff00ff" stroke-width="1.22"/>
<polygon points="319.35,515.52 322.15,518.32 319.35,521.12 316.55,518.32" fill="none" stroke="#ff00ff" stroke-width="1.22"/>
<polygon points="343.16,483.65 345.95,486.45 343.16,489.24 340.36,486.45" fill="none" stroke="#ff00ff" stroke-width="1.22"/>
<polygon points="368.18,448.89 370.97,451.69 368.18,454.48 365.38,451.69" fill="none" stroke="#ff00ff" stroke-width="1.22"/>
<polygon points="392.23,414.11 395.02,416.9 392.23,419.7 389.43,416.9" fill="none" stroke="#ff00ff" stroke-width="1.22"/>
<circle cx="175.05" cy="713.75" r="2.88" fill="url(#ball)"/>
<circle cx="179.91" cy="707.01" r="2.88" fill="url(#ball)"/>
<circle cx="187.69" cy="696.18" r="2.88" fill="url(#ball)"/>
<circle cx="196.43" cy="683.93" r="2.88" fill="url(#ball)"/>
<circle cx="211.01" cy="663.37" r="2.88" fill="url(#ball)"/>
<circle cx="223.88" cy="644.94" r="2.88" fill="url(#ball)"/>
<circle cx="240.16" cy="621.25" r="2.88" fill="url(#ball)"/>
<circle cx="255.46" cy="599.29" r="2.88" fill="url(#ball)"/>
<circle cx="271.25" cy="577.53" r="2.88" fill="url(#ball)"/>
<circle cx="288.26" cy="554.21" r="2.88" fill="url(#ball)"/>
<circle cx="304.29" cy="531.35" r="2.88" fill="url(#ball)"/>
<circle cx="319.35" cy="510.51" r="2.88" fill="url(#ball)"/>
<circle cx="343.16" cy="476.78" r="2.88" fill="url(#ball)"/>
<circle cx="368.18" cy="440.7" r="2.88" fill="url(#ball)"/>
<circle cx="392.23" cy="405.9" r="2.88" fill="url(#ball)"/>
<polygon points="166.31,717.06 167.14,719.07 169.31,719.25 167.66,720.66 168.17,722.78 166.31,721.65 164.45,722.78 164.96,720.66 163.3,719.25 165.47,719.07" fill="none" stroke="#808000" stroke-width="1.35" stroke-linejoin="bevel"/>
<polygon points="175.05,704.75 175.89,706.76 178.06,706.93 176.41,708.35 176.91,710.46 175.05,709.33 173.2,710.46 173.7,708.35 172.05,706.93 174.22,706.76" fill="none" stroke="#808000" stroke-width="1.35" stroke-linejoin="bevel"/>
<polygon points="179.91,697.89 180.75,699.9 182.92,700.07 181.26,701.49 181.77,703.61 179.91,702.47 178.05,703.61 178.56,701.49 176.91,700.07 179.08,699.9" fill="none" stroke="#808000" stroke-width="1.35" stroke-linejoin="bevel"/>
<polygon points="187.69,686.89 188.52,688.9 190.69,689.07 189.04,690.49 189.54,692.61 187.69,691.47 185.83,692.61 186.33,690.49 184.68,689.07 186.85,688.9" fill="none" stroke="#808000" stroke-width="1.35" stroke-linejoin="bevel"/>
<polygon points="196.43,674.48 197.27,676.49 199.44,676.67 197.78,678.08 198.29,680.2 196.43,679.06 194.57,680.2 195.08,678.08 193.42,676.67 195.59,676.49" fill="none" stroke="#808000" stroke-width="1.35" stroke-linejoin="bevel"/>
<polygon points="211.01,653.7 211.84,655.71 214.01,655.89 212.36,657.3 212.86,659.42 211.01,658.29 209.15,659.42 209.65,657.3 208,655.89 210.17,655.71" fill="none" stroke="#808000" stroke-width="1.35" stroke-linejoin="bevel"/>
<polygon points="223.88,635.18 224.72,637.19 226.89,637.36 225.23,638.78 225.74,640.9 223.88,639.76 222.02,640.9 222.53,638.78 220.87,637.36 223.04,637.19" fill="none" stroke="#808000" stroke-width="1.35" stroke-linejoin="bevel"/>
<polygon points="240.16,611.61 240.99,613.62 243.16,613.8 241.51,615.21 242.01,617.33 240.16,616.19 238.3,617.33 238.8,615.21 237.15,613.8 239.32,613.62" fill="none" stroke="#808000" stroke-width="1.35" stroke-linejoin="bevel"/>
<polygon points="255.46,589.56 256.3,591.57 258.47,591.75 256.81,593.16 257.32,595.28 255.46,594.14 253.6,595.28 254.11,593.16 252.45,591.75 254.62,591.57" fill="none" stroke="#808000" stroke-width="1.35" stroke-linejoin="bevel"/>
<polygon points="271.25,568.03 272.09,570.04 274.26,570.21 272.6,571.63 273.11,573.74 271.25,572.61 269.39,573.74 269.9,571.63 268.24,570.21 270.41,570.04" fill="none" stroke="#808000" stroke-width="1.35" stroke-linejoin="bevel"/>
<polygon points="288.26,544.6 289.09,546.61 291.26,546.78 289.61,548.2 290.11,550.32 288.26,549.18 286.4,550.32 286.9,548.2 285.25,546.78 287.42,546.61" fill="none" stroke="#808000" stroke-width="1.35" stroke-linejoin="bevel"/>
<polygon points="304.53,521.6 305.37,523.61 307.54,523.79 305.88,525.2 306.39,527.32 304.53,526.18 302.67,527.32 303.18,525.2 301.53,523.79 303.7,523.61" fill="none" stroke="#808000" stroke-width="1.35" stroke-linejoin="bevel"/>
<polygon points="320.37,502.33 321.21,504.34 323.38,504.51 321.72,505.93 322.23,508.04 320.37,506.91 318.51,508.04 319.02,505.93 317.36,504.51 319.53,504.34" fill="none" stroke="#808000" stroke-width="1.35" stroke-linejoin="bevel"/>
<polygon points="343.88,461.87 344.72,463.88 346.89,464.05 345.24,465.47 345.74,467.58 343.88,466.45 342.03,467.58 342.53,465.47 340.88,464.05 343.05,463.88" fill="none" stroke="#808000" stroke-width="1.35" stroke-linejoin="bevel"/>
<polygon points="368.57,427.14 369.4,429.15 371.57,429.32 369.92,430.74 370.42,432.86 368.57,431.72 366.71,432.86 367.21,430.74 365.56,429.32 367.73,429.15" fill="none" stroke="#808000" stroke-width="1.35" stroke-linejoin="bevel"/>
<polygon points="392.66,396.34 393.5,398.35 395.67,398.53 394.02,399.94 394.52,402.06 392.66,400.93 390.81,402.06 391.31,399.94 389.66,398.53 391.83,398.35" fill="none" stroke="#808000" stroke-width="1.35" stroke-linejoin="bevel"/>
</g>
<g clip-path="url(#clipd)">
<circle cx="641.23" cy="662.92" r="2.25" fill="none" stroke="#000000" stroke-width="1.16"/>
<circle cx="653.14" cy="648.96" r="2.25" fill="none" stroke="#000000" stroke-width="1.16"/>
<circle cx="665.78" cy="633.5" r="2.25" fill="none" stroke="#000000" stroke-width="1.16"/>
<circle cx="677.45" cy="618.44" r="2.25" fill="none" stroke="#000000" stroke-width="1.16"/>
<circle cx="689.6" cy="602.66" r="2.25" fill="none" stroke="#000000" stroke-width="1.16"/>
<circle cx="702.73" cy="585.49" r="2.25" fill="none" stroke="#000000" stroke-width="1.16"/>
<circle cx="714.88" cy="569.43" r="2.25" fill="none" stroke="#000000" stroke-width="1.16"/>
<circle cx="727.52" cy="552.53" r="2.25" fill="none" stroke="#000000" stroke-width="1.16"/>
<circle cx="740.16" cy="535.37" r="2.25" fill="none" stroke="#000000" stroke-width="1.16"/>
<circle cx="753.77" cy="516.5" r="2.25" fill="none" stroke="#000000" stroke-width="1.16"/>
<circle cx="766.41" cy="495.95" r="2.25" fill="none" stroke="#000000" stroke-width="1.16"/>
<path d="M638.83 660.15L643.63 660.15M641.23 657.75L641.23 662.55" stroke="#ff0000" stroke-width="1.84" fill="none" stroke-linecap="round"/>
<path d="M650.74 646.2L655.54 646.2M653.14 643.8L653.14 648.6" stroke="#ff0000" stroke-width="1.84" fill="none" stroke-linecap="round"/>
<path d="M663.38 630.75L668.18 630.75M665.78 628.35L665.78 633.15" stroke="#ff0000" stroke-width="1.84" fill="none" stroke-linecap="round"/>
<path d="M675.05 615.69L679.85 615.69M677.45 613.29L677.45 618.09" stroke="#ff0000" stroke-width="1.84" fill="none" stroke-linecap="round"/>
<path d="M687.2 599.92L692 599.92M689.6 597.52L689.6 602.32" stroke="#ff0000" stroke-width="1.84" fill="none" stroke-linecap="round"/>
<path d="M700.33 582.74L705.13 582.74M702.73 580.34L702.73 585.14" stroke="#ff0000" stroke-width="1.84" fill="none" stroke-linecap="round"/>
<path d="M712.48 566.68L717.28 566.68M714.88 564.28L714.88 569.08" stroke="#ff0000" stroke-width="1.84" fill="none" stroke-linecap="round"/>
<path d="M725.12 549.76L729.92 549.76M727.52 547.36L727.52 552.16" stroke="#ff0000" stroke-width="1.84" fill="none" stroke-linecap="round"/>
<path d="M737.76 532.6L742.56 532.6M740.16 530.2L740.16 535" stroke="#ff0000" stroke-width="1.84" fill="none" stroke-linecap="round"/>
<path d="M751.37 513.98L756.17 513.98M753.77 511.58L753.77 516.38" stroke="#ff0000" stroke-width="1.84" fill="none" stroke-linecap="round"/>
<polygon points="641.23,655.02 638.72,659.36 643.73,659.36" fill="none" stroke="#800080" stroke-width="1.22" stroke-linejoin="miter"/>
<polygon points="653.14,641.2 650.63,645.54 655.65,645.54" fill="none" stroke="#800080" stroke-width="1.22" stroke-linejoin="miter"/>
<polygon points="665.78,625.67 663.27,630.01 668.29,630.01" fill="none" stroke="#800080" stroke-width="1.22" stroke-linejoin="miter"/>
<polygon points="677.45,610.23 674.94,614.57 679.95,614.57" fill="none" stroke="#800080" stroke-width="1.22" stroke-linejoin="miter"/>
<polygon points="689.6,593.87 687.09,598.21 692.11,598.21" fill="none" stroke="#800080" stroke-width="1.22" stroke-linejoin="miter"/>
<polygon points="702.73,576.13 700.22,580.47 705.23,580.47" fill="none" stroke="#800080" stroke-width="1.22" stroke-linejoin="miter"/>
<polygon points="714.88,559.87 712.37,564.21 717.39,564.21" fill="none" stroke="#800080" stroke-width="1.22" stroke-linejoin="miter"/>
<polygon points="727.52,543.05 725.01,547.38 730.03,547.38" fill="none" stroke="#800080" stroke-width="1.22" stroke-linejoin="miter"/>
<polygon points="740.16,525.97 737.65,530.31 742.67,530.31" fill="none" stroke="#800080" stroke-width="1.22" stroke-linejoin="miter"/>
<polygon points="753.77,507.48 751.27,511.82 756.28,511.82" fill="none" stroke="#800080" stroke-width="1.22" stroke-linejoin="miter"/>
<circle cx="628.83" cy="667.81" r="2.65" fill="#fff" stroke="#800000" stroke-width="0.85"/><path d="M626.18 667.81 A2.65 2.65 0 0 1 631.48 667.81 Z" fill="#800000" stroke="#800000" stroke-width="0.85"/>
<circle cx="641.23" cy="653.35" r="2.65" fill="#fff" stroke="#800000" stroke-width="0.85"/><path d="M638.58 653.35 A2.65 2.65 0 0 1 643.88 653.35 Z" fill="#800000" stroke="#800000" stroke-width="0.85"/>
<circle cx="653.14" cy="639.26" r="2.65" fill="#fff" stroke="#800000" stroke-width="0.85"/><path d="M650.49 639.26 A2.65 2.65 0 0 1 655.79 639.26 Z" fill="#800000" stroke="#800000" stroke-width="0.85"/>
<circle cx="665.78" cy="623.48" r="2.65" fill="#fff" stroke="#800000" stroke-width="0.85"/><path d="M663.13 623.48 A2.65 2.65 0 0 1 668.43 623.48 Z" fill="#800000" stroke="#800000" stroke-width="0.85"/>
<circle cx="677.45" cy="607.95" r="2.65" fill="#fff" stroke="#800000" stroke-width="0.85"/><path d="M674.8 607.95 A2.65 2.65 0 0 1 680.1 607.95 Z" fill="#800000" stroke="#800000" stroke-width="0.85"/>
<circle cx="689.6" cy="591.55" r="2.65" fill="#fff" stroke="#800000" stroke-width="0.85"/><path d="M686.95 591.55 A2.65 2.65 0 0 1 692.25 591.55 Z" fill="#800000" stroke="#800000" stroke-width="0.85"/>
<circle cx="702.73" cy="573.66" r="2.65" fill="#fff" stroke="#800000" stroke-width="0.85"/><path d="M700.08 573.66 A2.65 2.65 0 0 1 705.38 573.66 Z" fill="#800000" stroke="#800000" stroke-width="0.85"/>
<circle cx="714.88" cy="556.97" r="2.65" fill="#fff" stroke="#800000" stroke-width="0.85"/><path d="M712.23 556.97 A2.65 2.65 0 0 1 717.53 556.97 Z" fill="#800000" stroke="#800000" stroke-width="0.85"/>
<circle cx="727.52" cy="539.4" r="2.65" fill="#fff" stroke="#800000" stroke-width="0.85"/><path d="M724.87 539.4 A2.65 2.65 0 0 1 730.17 539.4 Z" fill="#800000" stroke="#800000" stroke-width="0.85"/>
<circle cx="740.16" cy="521.86" r="2.65" fill="#fff" stroke="#800000" stroke-width="0.85"/><path d="M737.51 521.86 A2.65 2.65 0 0 1 742.81 521.86 Z" fill="#800000" stroke="#800000" stroke-width="0.85"/>
<circle cx="753.77" cy="502.96" r="2.65" fill="#fff" stroke="#800000" stroke-width="0.85"/><path d="M751.12 502.96 A2.65 2.65 0 0 1 756.42 502.96 Z" fill="#800000" stroke="#800000" stroke-width="0.85"/>
<polygon points="604.52,685.53 608.1,689.1 604.52,692.67 600.95,689.1" fill="none" stroke="#ff00ff" stroke-width="1.22"/>
<polygon points="616.68,671.36 620.25,674.93 616.68,678.5 613.1,674.93" fill="none" stroke="#ff00ff" stroke-width="1.22"/>
<polygon points="628.34,658.53 631.92,662.11 628.34,665.68 624.77,662.11" fill="none" stroke="#ff00ff" stroke-width="1.22"/>
<polygon points="640.98,642.79 644.56,646.36 640.98,649.93 637.41,646.36" fill="none" stroke="#ff00ff" stroke-width="1.22"/>
<polygon points="652.65,628.17 656.23,631.74 652.65,635.31 649.08,631.74" fill="none" stroke="#ff00ff" stroke-width="1.22"/>
<polygon points="665.78,612.42 669.35,615.99 665.78,619.57 662.21,615.99" fill="none" stroke="#ff00ff" stroke-width="1.22"/>
<polygon points="677.45,597.8 681.02,601.37 677.45,604.95 673.87,601.37" fill="none" stroke="#ff00ff" stroke-width="1.22"/>
<polygon points="689.6,582.05 693.17,585.63 689.6,589.2 686.03,585.63" fill="none" stroke="#ff00ff" stroke-width="1.22"/>
<polygon points="702.73,565.18 706.3,568.76 702.73,572.33 699.15,568.76" fill="none" stroke="#ff00ff" stroke-width="1.22"/>
<polygon points="714.88,548.31 718.45,551.88 714.88,555.46 711.31,551.88" fill="none" stroke="#ff00ff" stroke-width="1.22"/>
<polygon points="727.52,530.32 731.09,533.89 727.52,537.46 723.95,533.89" fill="none" stroke="#ff00ff" stroke-width="1.22"/>
<polygon points="740.16,512.32 743.73,515.89 740.16,519.47 736.59,515.89" fill="none" stroke="#ff00ff" stroke-width="1.22"/>
<polygon points="754.26,493.2 757.83,496.77 754.26,500.35 750.69,496.77" fill="none" stroke="#ff00ff" stroke-width="1.22"/>
<circle cx="605.06" cy="682.46" r="3.29" fill="url(#ball)"/>
<circle cx="616.48" cy="668.74" r="3.29" fill="url(#ball)"/>
<circle cx="628.54" cy="654.23" r="3.29" fill="url(#ball)"/>
<circle cx="640.6" cy="639.73" r="3.29" fill="url(#ball)"/>
<circle cx="652.65" cy="624.65" r="3.29" fill="url(#ball)"/>
<circle cx="664.71" cy="609.02" r="3.29" fill="url(#ball)"/>
<circle cx="677.45" cy="593.72" r="3.29" fill="url(#ball)"/>
<circle cx="689.75" cy="575.62" r="3.29" fill="url(#ball)"/>
<circle cx="702.48" cy="560.43" r="3.29" fill="url(#ball)"/>
<circle cx="714.88" cy="542.32" r="3.29" fill="url(#ball)"/>
<circle cx="728.01" cy="523.77" r="3.29" fill="url(#ball)"/>
<circle cx="740.65" cy="504.98" r="3.29" fill="url(#ball)"/>
<polygon points="605.5,672.07 606.43,674.32 608.85,674.51 607.01,676.09 607.57,678.46 605.5,677.19 603.42,678.46 603.98,676.09 602.14,674.51 604.56,674.32" fill="none" stroke="#808000" stroke-width="1.35" stroke-linejoin="bevel"/>
<polygon points="616.68,658.58 617.61,660.82 620.03,661.02 618.19,662.6 618.75,664.96 616.68,663.7 614.6,664.96 615.17,662.6 613.32,661.02 615.74,660.82" fill="none" stroke="#808000" stroke-width="1.35" stroke-linejoin="bevel"/>
<polygon points="628.83,643.96 629.76,646.2 632.19,646.4 630.34,647.98 630.91,650.34 628.83,649.07 626.76,650.34 627.32,647.98 625.47,646.4 627.9,646.2" fill="none" stroke="#808000" stroke-width="1.35" stroke-linejoin="bevel"/>
<polygon points="641.23,629.34 642.16,631.58 644.58,631.77 642.74,633.36 643.3,635.72 641.23,634.45 639.15,635.72 639.72,633.36 637.87,631.77 640.29,631.58" fill="none" stroke="#808000" stroke-width="1.35" stroke-linejoin="bevel"/>
<polygon points="653.14,614.71 654.07,616.96 656.5,617.15 654.65,618.73 655.21,621.1 653.14,619.83 651.06,621.1 651.63,618.73 649.78,617.15 652.2,616.96" fill="none" stroke="#808000" stroke-width="1.35" stroke-linejoin="bevel"/>
<polygon points="665.78,598.97 666.71,601.21 669.14,601.41 667.29,602.99 667.85,605.35 665.78,604.09 663.7,605.35 664.27,602.99 662.42,601.41 664.84,601.21" fill="none" stroke="#808000" stroke-width="1.35" stroke-linejoin="bevel"/>
<polygon points="677.45,583.22 678.38,585.47 680.8,585.66 678.96,587.24 679.52,589.61 677.45,588.34 675.37,589.61 675.94,587.24 674.09,585.66 676.51,585.47" fill="none" stroke="#808000" stroke-width="1.35" stroke-linejoin="bevel"/>
<polygon points="689.6,567.48 690.53,569.72 692.96,569.91 691.11,571.5 691.67,573.86 689.6,572.59 687.53,573.86 688.09,571.5 686.24,569.91 688.67,569.72" fill="none" stroke="#808000" stroke-width="1.35" stroke-linejoin="bevel"/>
<polygon points="702.73,548.36 703.66,550.6 706.08,550.79 704.24,552.38 704.8,554.74 702.73,553.47 700.65,554.74 701.22,552.38 699.37,550.79 701.79,550.6" fill="none" stroke="#808000" stroke-width="1.35" stroke-linejoin="bevel"/>
<polygon points="714.88,530.36 715.81,532.6 718.24,532.8 716.39,534.38 716.95,536.74 714.88,535.48 712.81,536.74 713.37,534.38 711.52,532.8 713.95,532.6" fill="none" stroke="#808000" stroke-width="1.35" stroke-linejoin="bevel"/>
<polygon points="727.52,510.11 728.45,512.36 730.88,512.55 729.03,514.13 729.59,516.5 727.52,515.23 725.45,516.5 726.01,514.13 724.16,512.55 726.59,512.36" fill="none" stroke="#808000" stroke-width="1.35" stroke-linejoin="bevel"/>
<polygon points="740.16,490.99 741.09,493.24 743.52,493.43 741.67,495.01 742.23,497.38 740.16,496.11 738.09,497.38 738.65,495.01 736.8,493.43 739.23,493.24" fill="none" stroke="#808000" stroke-width="1.35" stroke-linejoin="bevel"/>
</g>
<rect x="56.3" y="10.2" width="359.6" height="338.85" fill="none" stroke="#000" stroke-width="2.3"/>
<path d="M111.62 349.05V346.5M111.62 10.2V12.75M166.95 349.05V346.5M166.95 10.2V12.75M222.27 349.05V346.5M222.27 10.2V12.75M277.59 349.05V346.5M277.59 10.2V12.75M332.92 349.05V346.5M332.92 10.2V12.75M388.24 349.05V346.5M388.24 10.2V12.75M56.3 293.54H58.85M415.9 293.54H413.35M56.3 238.02H58.85M415.9 238.02H413.35M56.3 182.51H58.85M415.9 182.51H413.35M56.3 127H58.85M415.9 127H413.35M56.3 71.49H58.85M415.9 71.49H413.35M56.3 15.97H58.85M415.9 15.97H413.35" stroke="#000" stroke-width="1.7" fill="none"/>
<text x="55.5" y="370.4" font-size="22" text-anchor="middle">0</text>
<text x="166.95" y="370.4" font-size="22" text-anchor="middle">2</text>
<text x="277.59" y="370.4" font-size="22" text-anchor="middle">4</text>
<text x="388.24" y="370.4" font-size="22" text-anchor="middle">6</text>
<text x="50.7" y="355.7" font-size="22" text-anchor="end">0</text>
<text x="50.6" y="243.92" font-size="22" text-anchor="end">2</text>
<text x="50.6" y="133.5" font-size="22" text-anchor="end">4</text>
<text x="50.5" y="22.42" font-size="22" text-anchor="end">6</text>
<rect x="469.45" y="10.2" width="359.55" height="338.85" fill="none" stroke="#000" stroke-width="2.3"/>
<path d="M524.77 349.05V346.5M524.77 10.2V12.75M580.08 349.05V346.5M580.08 10.2V12.75M635.4 349.05V346.5M635.4 10.2V12.75M690.71 349.05V346.5M690.71 10.2V12.75M746.03 349.05V346.5M746.03 10.2V12.75M801.34 349.05V346.5M801.34 10.2V12.75M469.45 293.54H472M829 293.54H826.45M469.45 238.02H472M829 238.02H826.45M469.45 182.51H472M829 182.51H826.45M469.45 127H472M829 127H826.45M469.45 71.49H472M829 71.49H826.45M469.45 15.97H472M829 15.97H826.45" stroke="#000" stroke-width="1.7" fill="none"/>
<text x="468.65" y="370.4" font-size="22" text-anchor="middle">0</text>
<text x="580.08" y="370.4" font-size="22" text-anchor="middle">2</text>
<text x="690.71" y="370.4" font-size="22" text-anchor="middle">4</text>
<text x="801.34" y="370.4" font-size="22" text-anchor="middle">6</text>
<text x="462.3" y="355.7" font-size="22" text-anchor="end">0</text>
<text x="462.2" y="243.92" font-size="22" text-anchor="end">2</text>
<text x="462.2" y="133.5" font-size="22" text-anchor="end">4</text>
<text x="462.1" y="22.42" font-size="22" text-anchor="end">6</text>
<rect x="84.2" y="391.3" width="315.8" height="404.6" fill="none" stroke="#000" stroke-width="2.3"/>
<path d="M132.78 795.9V793.35M132.78 391.3V393.85M181.37 795.9V793.35M181.37 391.3V393.85M229.95 795.9V793.35M229.95 391.3V393.85M278.54 795.9V793.35M278.54 391.3V393.85M327.12 795.9V793.35M327.12 391.3V393.85M375.71 795.9V793.35M375.71 391.3V393.85M84.2 739.71H86.75M400 739.71H397.45M84.2 683.51H86.75M400 683.51H397.45M84.2 627.32H86.75M400 627.32H397.45M84.2 571.12H86.75M400 571.12H397.45M84.2 514.93H86.75M400 514.93H397.45M84.2 458.73H86.75M400 458.73H397.45M84.2 402.54H86.75M400 402.54H397.45" stroke="#000" stroke-width="1.7" fill="none"/>
<text x="83.9" y="817.5" font-size="22" text-anchor="middle">0</text>
<text x="181.37" y="817.4" font-size="22" text-anchor="middle">2</text>
<text x="278.54" y="817.3" font-size="22" text-anchor="middle">4</text>
<text x="375.71" y="817.3" font-size="22" text-anchor="middle">6</text>
<text x="75.4" y="802.4" font-size="22" text-anchor="end">0</text>
<text x="75.4" y="689.81" font-size="22" text-anchor="end">1</text>
<text x="75.4" y="577.22" font-size="22" text-anchor="end">2</text>
<text x="75.4" y="464.63" font-size="22" text-anchor="end">3</text>
<rect x="500" y="388.8" width="316" height="404.9" fill="none" stroke="#000" stroke-width="2.3"/>
<path d="M548.62 793.7V791.15M548.62 388.8V391.35M597.23 793.7V791.15M597.23 388.8V391.35M645.85 793.7V791.15M645.85 388.8V391.35M694.46 793.7V791.15M694.46 388.8V391.35M743.08 793.7V791.15M743.08 388.8V391.35M791.69 793.7V791.15M791.69 388.8V391.35M500 737.46H502.55M816 737.46H813.45M500 681.23H502.55M816 681.23H813.45M500 624.99H502.55M816 624.99H813.45M500 568.76H502.55M816 568.76H813.45M500 512.52H502.55M816 512.52H813.45M500 456.28H502.55M816 456.28H813.45M500 400.05H502.55M816 400.05H813.45" stroke="#000" stroke-width="1.7" fill="none"/>
<text x="499.5" y="815.2" font-size="22" text-anchor="middle">0</text>
<text x="597.23" y="815.2" font-size="22" text-anchor="middle">2</text>
<text x="694.46" y="815.2" font-size="22" text-anchor="middle">4</text>
<text x="791.69" y="815.2" font-size="22" text-anchor="middle">6</text>
<text x="492.5" y="800.4" font-size="22" text-anchor="end">0</text>
<text x="492.5" y="687.73" font-size="22" text-anchor="end">1</text>
<text x="492.5" y="575.06" font-size="22" text-anchor="end">2</text>
<text x="492.5" y="462.38" font-size="22" text-anchor="end">3</text>
<g clip-path="url(#clipoa)">
<path d="M93.26 349.05 L95.59 347.85 L97.93 346.64 L100.27 345.43 L102.61 344.22 L104.95 343 L107.28 341.78 L109.62 340.55 L111.96 339.32 L114.3 338.09 L116.64 336.85 L118.97 335.6 L121.31 334.35 L123.65 333.09 L125.99 331.83 L128.33 330.56 L130.66 329.29 L133 328.01 L135.34 326.72 L137.68 325.43 L140.02 324.13 L142.35 322.83 L144.69 321.52 L147.03 320.21 L149.37 318.89 L151.71 317.56 L154.04 316.23 L156.38 314.9 L158.72 313.56 L161.06 312.21 L163.4 310.87 L165.73 309.52 L168.07 308.16 L170.41 306.8 L172.75 305.44 L175.09 304.08 L177.42 302.71 L179.76 301.34 L182.1 299.97 L184.44 298.59 L186.78 297.22 L189.11 295.84 L191.45 294.46 L193.79 293.07 L196.13 291.69 L198.47 290.3 L200.8 288.92 L203.14 287.53 L205.48 286.14 L207.82 284.76 L210.16 283.37 L212.49 281.98 L214.83 280.59 L217.17 279.19 L219.51 277.78 L221.85 276.36 L224.18 274.94 L226.52 273.51 L228.86 272.08 L231.2 270.65 L233.54 269.21 L235.87 267.78 L238.21 266.34 L240.55 264.91 L242.89 263.48 L245.23 262.05 L247.56 260.62 L249.9 259.21 L252.24 257.79 L254.58 256.39 L256.92 254.99 L259.25 253.61 L261.59 252.23 L263.93 250.87 L266.27 249.52 L268.61 248.17 L270.94 246.84 L273.28 245.51 L275.62 244.19 L277.96 242.87 L280.3 241.55 L282.63 240.24 L284.97 238.94 L287.31 237.63 L289.65 236.32 L291.99 235.01 L294.32 233.7 L296.66 232.38 L299 231.06 L301.34 229.73 L303.68 228.4 L306.01 227.06 L308.35 225.71 L310.69 224.35 L313.03 222.99 L315.37 221.62 L317.7 220.26 L320.04 218.89 L322.38 217.52 L324.72 216.15 L327.06 214.78 L329.39 213.41 L331.73 212.04 L334.07 210.66 L336.41 209.28 L338.75 207.9 L341.08 206.52 L343.42 205.13 L345.76 203.75 L348.1 202.36 L350.44 200.97 L352.77 199.58 L355.11 198.18 L357.45 196.79 L359.79 195.39 L362.13 193.99 L364.46 192.59 L366.8 191.18 L369.14 189.77 L371.48 188.36 L373.82 186.95 L376.15 185.54 L378.49 184.12 L380.83 182.71 L383.17 181.29 L385.51 179.86 L387.84 178.44 L390.18 177.01 L392.52 175.58 L394.86 174.15 L397.2 172.71 L399.53 171.27 L401.87 169.83 L404.21 168.39 L406.55 166.95 L408.89 165.5 L411.22 164.05 L413.56 162.6 L415.9 161.14 L417.56 160.11" fill="none" stroke="#000000" stroke-width="1.35" stroke-linejoin="round"/>
<path d="M91.98 349.05 L94.31 347.85 L96.64 346.65 L98.97 345.44 L101.3 344.23 L103.64 343.01 L105.97 341.79 L108.3 340.56 L110.63 339.33 L112.96 338.09 L115.29 336.85 L117.62 335.6 L119.95 334.35 L122.28 333.09 L124.61 331.82 L126.94 330.54 L129.27 329.26 L131.6 327.98 L133.93 326.68 L136.26 325.38 L138.59 324.07 L140.92 322.75 L143.25 321.43 L145.58 320.09 L147.91 318.75 L150.24 317.41 L152.57 316.06 L154.9 314.7 L157.23 313.34 L159.56 311.97 L161.89 310.6 L164.22 309.22 L166.55 307.84 L168.88 306.46 L171.21 305.07 L173.55 303.68 L175.88 302.29 L178.21 300.89 L180.54 299.49 L182.87 298.1 L185.2 296.7 L187.53 295.3 L189.86 293.9 L192.19 292.49 L194.52 291.09 L196.85 289.69 L199.18 288.29 L201.51 286.9 L203.84 285.5 L206.17 284.1 L208.5 282.71 L210.83 281.32 L213.16 279.93 L215.49 278.53 L217.82 277.12 L220.15 275.71 L222.48 274.3 L224.81 272.88 L227.14 271.46 L229.47 270.05 L231.8 268.63 L234.13 267.21 L236.46 265.79 L238.79 264.38 L241.12 262.97 L243.46 261.56 L245.79 260.16 L248.12 258.76 L250.45 257.37 L252.78 255.98 L255.11 254.61 L257.44 253.24 L259.77 251.88 L262.1 250.53 L264.43 249.19 L266.76 247.86 L269.09 246.54 L271.42 245.23 L273.75 243.92 L276.08 242.62 L278.41 241.32 L280.74 240.02 L283.07 238.72 L285.4 237.43 L287.73 236.13 L290.06 234.83 L292.39 233.53 L294.72 232.22 L297.05 230.91 L299.38 229.58 L301.71 228.26 L304.04 226.92 L306.37 225.57 L308.7 224.21 L311.03 222.85 L313.37 221.49 L315.7 220.13 L318.03 218.76 L320.36 217.4 L322.69 216.03 L325.02 214.66 L327.35 213.28 L329.68 211.91 L332.01 210.53 L334.34 209.15 L336.67 207.77 L339 206.38 L341.33 205 L343.66 203.61 L345.99 202.21 L348.32 200.82 L350.65 199.42 L352.98 198.02 L355.31 196.62 L357.64 195.22 L359.97 193.81 L362.3 192.4 L364.63 190.99 L366.96 189.57 L369.29 188.16 L371.62 186.74 L373.95 185.31 L376.28 183.89 L378.61 182.46 L380.94 181.03 L383.28 179.59 L385.61 178.16 L387.94 176.72 L390.27 175.27 L392.6 173.83 L394.93 172.38 L397.26 170.93 L399.59 169.47 L401.92 168.01 L404.25 166.55 L406.58 165.09 L408.91 163.62 L411.24 162.15 L413.57 160.67 L415.9 159.2 L417.56 158.14" fill="none" stroke="#800080" stroke-width="1.35" stroke-linejoin="round"/>
<path d="M90.88 349.05 L93.2 347.81 L95.52 346.57 L97.84 345.33 L100.16 344.08 L102.48 342.82 L104.81 341.56 L107.13 340.3 L109.45 339.03 L111.77 337.76 L114.09 336.48 L116.41 335.19 L118.74 333.9 L121.06 332.61 L123.38 331.3 L125.7 330 L128.02 328.68 L130.34 327.36 L132.67 326.03 L134.99 324.7 L137.31 323.35 L139.63 322 L141.95 320.65 L144.27 319.28 L146.6 317.92 L148.92 316.54 L151.24 315.16 L153.56 313.78 L155.88 312.39 L158.2 310.99 L160.52 309.6 L162.85 308.2 L165.17 306.79 L167.49 305.38 L169.81 303.97 L172.13 302.56 L174.45 301.14 L176.78 299.72 L179.1 298.3 L181.42 296.88 L183.74 295.46 L186.06 294.04 L188.38 292.62 L190.71 291.19 L193.03 289.77 L195.35 288.35 L197.67 286.93 L199.99 285.51 L202.31 284.09 L204.63 282.67 L206.96 281.26 L209.28 279.84 L211.6 278.41 L213.92 276.98 L216.24 275.54 L218.56 274.1 L220.89 272.66 L223.21 271.22 L225.53 269.77 L227.85 268.33 L230.17 266.89 L232.49 265.44 L234.82 264 L237.14 262.57 L239.46 261.13 L241.78 259.71 L244.1 258.28 L246.42 256.87 L248.75 255.46 L251.07 254.06 L253.39 252.67 L255.71 251.29 L258.03 249.92 L260.35 248.57 L262.67 247.22 L265 245.88 L267.32 244.55 L269.64 243.22 L271.96 241.9 L274.28 240.58 L276.6 239.26 L278.93 237.95 L281.25 236.63 L283.57 235.31 L285.89 233.98 L288.21 232.65 L290.53 231.31 L292.86 229.96 L295.18 228.61 L297.5 227.24 L299.82 225.86 L302.14 224.47 L304.46 223.07 L306.79 221.68 L309.11 220.28 L311.43 218.87 L313.75 217.47 L316.07 216.06 L318.39 214.65 L320.71 213.24 L323.04 211.82 L325.36 210.4 L327.68 208.98 L330 207.56 L332.32 206.13 L334.64 204.7 L336.97 203.27 L339.29 201.83 L341.61 200.39 L343.93 198.95 L346.25 197.5 L348.57 196.06 L350.9 194.61 L353.22 193.15 L355.54 191.69 L357.86 190.23 L360.18 188.77 L362.5 187.3 L364.82 185.83 L367.15 184.35 L369.47 182.88 L371.79 181.39 L374.11 179.91 L376.43 178.42 L378.75 176.93 L381.08 175.43 L383.4 173.93 L385.72 172.43 L388.04 170.92 L390.36 169.41 L392.68 167.9 L395.01 166.38 L397.33 164.86 L399.65 163.33 L401.97 161.8 L404.29 160.27 L406.61 158.73 L408.94 157.19 L411.26 155.64 L413.58 154.09 L415.9 152.53 L417.56 151.42" fill="none" stroke="#ff0080" stroke-width="1.35" stroke-linejoin="round"/>
<path d="M89 349.05 L91.33 347.65 L93.67 346.26 L96 344.86 L98.34 343.46 L100.67 342.06 L103.01 340.66 L105.34 339.26 L107.68 337.86 L110.01 336.46 L112.35 335.05 L114.68 333.65 L117.02 332.24 L119.35 330.83 L121.69 329.42 L124.02 328 L126.36 326.59 L128.69 325.17 L131.03 323.76 L133.36 322.34 L135.7 320.92 L138.03 319.5 L140.37 318.08 L142.7 316.66 L145.04 315.24 L147.37 313.81 L149.71 312.39 L152.04 310.97 L154.38 309.54 L156.71 308.11 L159.05 306.69 L161.38 305.26 L163.72 303.83 L166.05 302.4 L168.39 300.96 L170.72 299.53 L173.06 298.1 L175.39 296.66 L177.73 295.23 L180.06 293.79 L182.4 292.35 L184.73 290.91 L187.07 289.47 L189.4 288.03 L191.74 286.59 L194.07 285.14 L196.41 283.7 L198.74 282.25 L201.08 280.8 L203.41 279.35 L205.75 277.9 L208.08 276.44 L210.42 274.98 L212.75 273.52 L215.09 272.06 L217.42 270.59 L219.76 269.13 L222.09 267.66 L224.43 266.19 L226.76 264.73 L229.1 263.26 L231.43 261.79 L233.77 260.33 L236.1 258.86 L238.44 257.4 L240.77 255.93 L243.11 254.47 L245.44 253.01 L247.78 251.55 L250.11 250.1 L252.45 248.66 L254.78 247.22 L257.12 245.78 L259.45 244.35 L261.79 242.92 L264.12 241.48 L266.46 240.05 L268.79 238.61 L271.13 237.18 L273.46 235.73 L275.8 234.28 L278.13 232.83 L280.47 231.36 L282.8 229.89 L285.14 228.41 L287.47 226.91 L289.81 225.41 L292.14 223.89 L294.48 222.37 L296.81 220.83 L299.15 219.3 L301.48 217.76 L303.82 216.21 L306.15 214.65 L308.49 213.09 L310.82 211.53 L313.16 209.96 L315.49 208.39 L317.83 206.81 L320.16 205.22 L322.5 203.63 L324.83 202.04 L327.17 200.45 L329.5 198.85 L331.84 197.24 L334.17 195.63 L336.51 194.02 L338.84 192.41 L341.18 190.79 L343.51 189.17 L345.85 187.55 L348.18 185.93 L350.52 184.3 L352.85 182.67 L355.19 181.04 L357.52 179.4 L359.86 177.77 L362.19 176.13 L364.53 174.5 L366.86 172.86 L369.2 171.22 L371.53 169.58 L373.87 167.94 L376.2 166.3 L378.54 164.66 L380.87 163.02 L383.21 161.38 L385.54 159.74 L387.88 158.1 L390.21 156.46 L392.55 154.82 L394.88 153.18 L397.22 151.55 L399.55 149.91 L401.89 148.28 L404.22 146.64 L406.56 144.99 L408.89 143.34 L411.23 141.69 L413.56 140.03 L415.9 138.38 L417.56 137.2" fill="none" stroke="#808000" stroke-width="1.35" stroke-linejoin="round"/>
<path d="M85.9 349.05 L88.22 347.65 L90.55 346.24 L92.87 344.83 L95.19 343.41 L97.52 341.98 L99.84 340.54 L102.17 339.1 L104.49 337.64 L106.81 336.18 L109.14 334.71 L111.46 333.23 L113.79 331.75 L116.11 330.26 L118.43 328.76 L120.76 327.25 L123.08 325.73 L125.41 324.21 L127.73 322.68 L130.05 321.14 L132.38 319.59 L134.7 318.02 L137.02 316.44 L139.35 314.85 L141.67 313.24 L144 311.62 L146.32 309.99 L148.64 308.35 L150.97 306.7 L153.29 305.05 L155.62 303.39 L157.94 301.72 L160.26 300.05 L162.59 298.38 L164.91 296.71 L167.24 295.04 L169.56 293.37 L171.88 291.7 L174.21 290.04 L176.53 288.38 L178.86 286.73 L181.18 285.08 L183.5 283.45 L185.83 281.83 L188.15 280.22 L190.48 278.61 L192.8 277.01 L195.12 275.41 L197.45 273.82 L199.77 272.23 L202.1 270.65 L204.42 269.07 L206.74 267.5 L209.07 265.93 L211.39 264.36 L213.72 262.79 L216.04 261.23 L218.36 259.67 L220.69 258.11 L223.01 256.56 L225.34 255 L227.66 253.45 L229.98 251.9 L232.31 250.34 L234.63 248.79 L236.96 247.24 L239.28 245.68 L241.6 244.13 L243.93 242.57 L246.25 241.01 L248.57 239.45 L250.9 237.89 L253.22 236.33 L255.55 234.76 L257.87 233.19 L260.19 231.62 L262.52 230.04 L264.84 228.46 L267.17 226.87 L269.49 225.28 L271.81 223.68 L274.14 222.08 L276.46 220.48 L278.79 218.86 L281.11 217.24 L283.43 215.62 L285.76 213.98 L288.08 212.34 L290.41 210.7 L292.73 209.04 L295.05 207.38 L297.38 205.7 L299.7 204.02 L302.03 202.33 L304.35 200.64 L306.67 198.94 L309 197.24 L311.32 195.53 L313.65 193.81 L315.97 192.1 L318.29 190.37 L320.62 188.64 L322.94 186.91 L325.27 185.18 L327.59 183.43 L329.91 181.69 L332.24 179.94 L334.56 178.18 L336.89 176.42 L339.21 174.66 L341.53 172.89 L343.86 171.11 L346.18 169.34 L348.51 167.55 L350.83 165.77 L353.15 163.97 L355.48 162.18 L357.8 160.38 L360.12 158.57 L362.45 156.76 L364.77 154.95 L367.1 153.13 L369.42 151.31 L371.74 149.48 L374.07 147.65 L376.39 145.81 L378.72 143.97 L381.04 142.13 L383.36 140.28 L385.69 138.42 L388.01 136.57 L390.34 134.71 L392.66 132.84 L394.98 130.97 L397.31 129.1 L399.63 127.22 L401.96 125.34 L404.28 123.45 L406.6 121.56 L408.93 119.66 L411.25 117.76 L413.58 115.86 L415.9 113.95 L417.56 112.59" fill="none" stroke="#008000" stroke-width="1.35" stroke-linejoin="round"/>
<path d="M83.41 349.05 L85.73 347.4 L88.06 345.74 L90.38 344.07 L92.71 342.4 L95.03 340.72 L97.36 339.04 L99.68 337.35 L102.01 335.66 L104.33 333.96 L106.66 332.25 L108.98 330.53 L111.31 328.81 L113.63 327.08 L115.96 325.35 L118.29 323.6 L120.61 321.85 L122.94 320.09 L125.26 318.33 L127.59 316.55 L129.91 314.76 L132.24 312.97 L134.56 311.16 L136.89 309.35 L139.21 307.53 L141.54 305.71 L143.86 303.87 L146.19 302.04 L148.51 300.2 L150.84 298.35 L153.16 296.5 L155.49 294.64 L157.81 292.79 L160.14 290.93 L162.46 289.07 L164.79 287.2 L167.11 285.34 L169.44 283.48 L171.76 281.62 L174.09 279.75 L176.41 277.89 L178.74 276.03 L181.06 274.18 L183.39 272.33 L185.71 270.48 L188.04 268.63 L190.36 266.79 L192.69 264.95 L195.01 263.12 L197.34 261.29 L199.66 259.46 L201.99 257.64 L204.31 255.82 L206.64 254 L208.96 252.18 L211.29 250.37 L213.61 248.55 L215.94 246.74 L218.27 244.93 L220.59 243.12 L222.92 241.31 L225.24 239.49 L227.57 237.68 L229.89 235.87 L232.22 234.05 L234.54 232.24 L236.87 230.42 L239.19 228.6 L241.52 226.77 L243.84 224.95 L246.17 223.12 L248.49 221.29 L250.82 219.45 L253.14 217.61 L255.47 215.76 L257.79 213.91 L260.12 212.06 L262.44 210.2 L264.77 208.33 L267.09 206.46 L269.42 204.58 L271.74 202.7 L274.07 200.81 L276.39 198.91 L278.72 197 L281.04 195.09 L283.37 193.16 L285.69 191.23 L288.02 189.29 L290.34 187.34 L292.67 185.38 L294.99 183.41 L297.32 181.43 L299.64 179.44 L301.97 177.45 L304.29 175.44 L306.62 173.43 L308.94 171.41 L311.27 169.38 L313.59 167.35 L315.92 165.3 L318.25 163.26 L320.57 161.2 L322.9 159.14 L325.22 157.08 L327.55 155 L329.87 152.92 L332.2 150.83 L334.52 148.74 L336.85 146.64 L339.17 144.53 L341.5 142.42 L343.82 140.3 L346.15 138.17 L348.47 136.04 L350.8 133.9 L353.12 131.75 L355.45 129.6 L357.77 127.44 L360.1 125.27 L362.42 123.1 L364.75 120.93 L367.07 118.74 L369.4 116.55 L371.72 114.36 L374.05 112.15 L376.37 109.94 L378.7 107.73 L381.02 105.51 L383.35 103.28 L385.67 101.05 L388 98.81 L390.32 96.57 L392.65 94.32 L394.97 92.06 L397.3 89.8 L399.62 87.53 L401.95 85.25 L404.27 82.97 L406.6 80.69 L408.92 78.4 L411.25 76.1 L413.57 73.79 L415.9 71.49 L417.56 69.84" fill="none" stroke="#0000ff" stroke-width="1.35" stroke-linejoin="round"/>
<path d="M77.88 349.05 L80.21 347 L82.54 344.94 L84.87 342.88 L87.2 340.8 L89.53 338.71 L91.86 336.62 L94.19 334.51 L96.53 332.39 L98.86 330.26 L101.19 328.12 L103.52 325.97 L105.85 323.81 L108.18 321.64 L110.51 319.45 L112.84 317.25 L115.18 315.03 L117.51 312.8 L119.84 310.55 L122.17 308.3 L124.5 306.03 L126.83 303.75 L129.16 301.47 L131.49 299.17 L133.82 296.87 L136.16 294.57 L138.49 292.26 L140.82 289.94 L143.15 287.62 L145.48 285.3 L147.81 282.98 L150.14 280.65 L152.47 278.33 L154.81 276.01 L157.14 273.7 L159.47 271.38 L161.8 269.07 L164.13 266.76 L166.46 264.45 L168.79 262.14 L171.12 259.83 L173.46 257.52 L175.79 255.2 L178.12 252.89 L180.45 250.57 L182.78 248.25 L185.11 245.93 L187.44 243.61 L189.77 241.29 L192.1 238.96 L194.44 236.64 L196.77 234.31 L199.1 231.98 L201.43 229.65 L203.76 227.32 L206.09 224.98 L208.42 222.65 L210.75 220.31 L213.09 217.97 L215.42 215.62 L217.75 213.28 L220.08 210.93 L222.41 208.58 L224.74 206.23 L227.07 203.87 L229.4 201.52 L231.74 199.16 L234.07 196.79 L236.4 194.43 L238.73 192.06 L241.06 189.7 L243.39 187.34 L245.72 184.98 L248.05 182.62 L250.38 180.26 L252.72 177.9 L255.05 175.53 L257.38 173.17 L259.71 170.81 L262.04 168.44 L264.37 166.06 L266.7 163.69 L269.03 161.31 L271.37 158.92 L273.7 156.53 L276.03 154.13 L278.36 151.73 L280.69 149.31 L283.02 146.89 L285.35 144.46 L287.68 142.02 L290.02 139.57 L292.35 137.11 L294.68 134.64 L297.01 132.16 L299.34 129.67 L301.67 127.16 L304 124.63 L306.33 122.09 L308.66 119.52 L311 116.95 L313.33 114.36 L315.66 111.75 L317.99 109.14 L320.32 106.51 L322.65 103.88 L324.98 101.24 L327.31 98.6 L329.65 95.95 L331.98 93.3 L334.31 90.66 L336.64 88.01 L338.97 85.36 L341.3 82.72 L343.63 80.08 L345.96 77.45 L348.3 74.83 L350.63 72.22 L352.96 69.62 L355.29 67.02 L357.62 64.43 L359.95 61.84 L362.28 59.25 L364.61 56.66 L366.94 54.08 L369.28 51.5 L371.61 48.91 L373.94 46.33 L376.27 43.75 L378.6 41.17 L380.93 38.59 L383.26 36.02 L385.59 33.44 L387.93 30.86 L390.26 28.28 L392.59 25.7 L394.92 23.13 L397.25 20.55 L399.58 17.97 L401.91 15.38 L404.24 12.8 L406.58 10.22 L408.91 7.63 L411.24 5.05 L413.57 2.46 L415.9 -0.13 L417.56 -1.97" fill="none" stroke="#ff0000" stroke-width="1.35" stroke-linejoin="round"/>
</g>
<g clip-path="url(#clipob)">
<path d="M511.32 349.05 L513.66 347.83 L516 346.61 L518.33 345.38 L520.67 344.16 L523 342.93 L525.34 341.7 L527.67 340.46 L530.01 339.22 L532.35 337.98 L534.68 336.74 L537.02 335.49 L539.35 334.24 L541.69 332.99 L544.03 331.73 L546.36 330.46 L548.7 329.2 L551.03 327.93 L553.37 326.65 L555.7 325.38 L558.04 324.1 L560.38 322.81 L562.71 321.53 L565.05 320.24 L567.38 318.95 L569.72 317.66 L572.06 316.37 L574.39 315.08 L576.73 313.78 L579.06 312.49 L581.4 311.2 L583.74 309.9 L586.07 308.61 L588.41 307.32 L590.74 306.03 L593.08 304.74 L595.41 303.45 L597.75 302.16 L600.09 300.87 L602.42 299.59 L604.76 298.3 L607.09 297.02 L609.43 295.74 L611.77 294.45 L614.1 293.17 L616.44 291.88 L618.77 290.6 L621.11 289.32 L623.44 288.03 L625.78 286.75 L628.12 285.46 L630.45 284.17 L632.79 282.89 L635.12 281.6 L637.46 280.31 L639.8 279.02 L642.13 277.73 L644.47 276.44 L646.8 275.14 L649.14 273.84 L651.48 272.55 L653.81 271.25 L656.15 269.95 L658.48 268.64 L660.82 267.34 L663.15 266.03 L665.49 264.72 L667.83 263.41 L670.16 262.1 L672.5 260.79 L674.83 259.48 L677.17 258.17 L679.51 256.85 L681.84 255.53 L684.18 254.22 L686.51 252.9 L688.85 251.57 L691.18 250.25 L693.52 248.93 L695.86 247.6 L698.19 246.27 L700.53 244.94 L702.86 243.6 L705.2 242.27 L707.54 240.93 L709.87 239.59 L712.21 238.25 L714.54 236.9 L716.88 235.55 L719.21 234.2 L721.55 232.84 L723.89 231.48 L726.22 230.12 L728.56 228.76 L730.89 227.39 L733.23 226.02 L735.57 224.65 L737.9 223.28 L740.24 221.91 L742.57 220.53 L744.91 219.16 L747.25 217.78 L749.58 216.4 L751.92 215.03 L754.25 213.65 L756.59 212.27 L758.92 210.89 L761.26 209.51 L763.6 208.12 L765.93 206.74 L768.27 205.36 L770.6 203.97 L772.94 202.58 L775.28 201.2 L777.61 199.81 L779.95 198.42 L782.28 197.02 L784.62 195.63 L786.95 194.24 L789.29 192.84 L791.63 191.45 L793.96 190.05 L796.3 188.65 L798.63 187.25 L800.97 185.85 L803.31 184.45 L805.64 183.04 L807.98 181.63 L810.31 180.23 L812.65 178.82 L814.98 177.41 L817.32 176 L819.66 174.58 L821.99 173.17 L824.33 171.75 L826.66 170.33 L829 168.91 L830.66 167.9" fill="none" stroke="#000000" stroke-width="1.35" stroke-linejoin="round"/>
<path d="M505.63 349.05 L507.95 347.91 L510.28 346.76 L512.61 345.61 L514.93 344.45 L517.26 343.29 L519.58 342.12 L521.91 340.95 L524.24 339.77 L526.56 338.59 L528.89 337.39 L531.22 336.2 L533.54 335 L535.87 333.79 L538.2 332.57 L540.52 331.34 L542.85 330.11 L545.18 328.87 L547.5 327.62 L549.83 326.36 L552.15 325.1 L554.48 323.83 L556.81 322.56 L559.13 321.28 L561.46 319.99 L563.79 318.71 L566.11 317.42 L568.44 316.12 L570.77 314.83 L573.09 313.54 L575.42 312.24 L577.75 310.95 L580.07 309.65 L582.4 308.36 L584.72 307.07 L587.05 305.78 L589.38 304.49 L591.7 303.21 L594.03 301.93 L596.36 300.66 L598.68 299.39 L601.01 298.12 L603.34 296.86 L605.66 295.6 L607.99 294.34 L610.32 293.08 L612.64 291.82 L614.97 290.56 L617.29 289.31 L619.62 288.05 L621.95 286.79 L624.27 285.53 L626.6 284.27 L628.93 283.01 L631.25 281.75 L633.58 280.48 L635.91 279.21 L638.23 277.94 L640.56 276.66 L642.89 275.38 L645.21 274.1 L647.54 272.81 L649.86 271.52 L652.19 270.22 L654.52 268.91 L656.84 267.6 L659.17 266.29 L661.5 264.96 L663.82 263.63 L666.15 262.29 L668.48 260.95 L670.8 259.61 L673.13 258.25 L675.46 256.9 L677.78 255.54 L680.11 254.18 L682.43 252.82 L684.76 251.46 L687.09 250.09 L689.41 248.73 L691.74 247.36 L694.07 246 L696.39 244.64 L698.72 243.27 L701.05 241.91 L703.37 240.56 L705.7 239.2 L708.03 237.85 L710.35 236.5 L712.68 235.16 L715 233.82 L717.33 232.47 L719.66 231.13 L721.98 229.79 L724.31 228.45 L726.64 227.1 L728.96 225.75 L731.29 224.4 L733.62 223.04 L735.94 221.68 L738.27 220.33 L740.6 218.97 L742.92 217.61 L745.25 216.25 L747.57 214.89 L749.9 213.53 L752.23 212.16 L754.55 210.8 L756.88 209.44 L759.21 208.07 L761.53 206.71 L763.86 205.34 L766.19 203.98 L768.51 202.61 L770.84 201.24 L773.17 199.87 L775.49 198.5 L777.82 197.13 L780.14 195.76 L782.47 194.38 L784.8 193.01 L787.12 191.63 L789.45 190.26 L791.78 188.88 L794.1 187.5 L796.43 186.12 L798.76 184.74 L801.08 183.36 L803.41 181.98 L805.74 180.6 L808.06 179.21 L810.39 177.82 L812.71 176.44 L815.04 175.05 L817.37 173.66 L819.69 172.27 L822.02 170.88 L824.35 169.48 L826.67 168.09 L829 166.69 L830.66 165.69" fill="none" stroke="#800080" stroke-width="1.35" stroke-linejoin="round"/>
<path d="M492.41 349.05 L495.43 347.45 L498.45 345.85 L501.47 344.25 L504.49 342.65 L507.51 341.06 L507.51 341.06 L509.84 340.06 L512.17 339.07 L514.5 338.06 L516.83 337.04 L519.16 336 L521.48 334.95 L523.81 333.88 L526.14 332.79 L528.47 331.67 L530.8 330.54 L533.13 329.39 L535.46 328.22 L537.79 327.03 L540.12 325.83 L542.45 324.62 L544.78 323.4 L547.11 322.16 L549.44 320.92 L551.77 319.66 L554.1 318.4 L556.43 317.13 L558.76 315.85 L561.09 314.57 L563.42 313.29 L565.75 312.01 L568.08 310.72 L570.41 309.43 L572.74 308.15 L575.07 306.87 L577.4 305.59 L579.73 304.31 L582.06 303.04 L584.39 301.78 L586.72 300.52 L589.05 299.27 L591.37 298.04 L593.7 296.81 L596.03 295.59 L598.36 294.38 L600.69 293.18 L603.02 291.98 L605.35 290.78 L607.68 289.59 L610.01 288.4 L612.34 287.21 L614.67 286.02 L617 284.83 L619.33 283.64 L621.66 282.44 L623.99 281.24 L626.32 280.04 L628.65 278.83 L630.98 277.62 L633.31 276.39 L635.64 275.16 L637.97 273.92 L640.3 272.67 L642.63 271.41 L644.96 270.13 L647.29 268.84 L649.62 267.53 L651.95 266.21 L654.28 264.86 L656.61 263.5 L658.93 262.12 L661.26 260.73 L663.59 259.33 L665.92 257.92 L668.25 256.5 L670.58 255.07 L672.91 253.64 L675.24 252.2 L677.57 250.77 L679.9 249.34 L682.23 247.91 L684.56 246.48 L686.89 245.06 L689.22 243.65 L691.55 242.25 L693.88 240.87 L696.21 239.49 L698.54 238.14 L700.87 236.8 L703.2 235.48 L705.53 234.16 L707.86 232.84 L710.19 231.5 L712.52 230.16 L714.85 228.82 L717.18 227.48 L719.51 226.12 L721.84 224.76 L724.17 223.39 L726.49 222.01 L728.82 220.63 L731.15 219.25 L733.48 217.86 L735.81 216.48 L738.14 215.09 L740.47 213.71 L742.8 212.32 L745.13 210.93 L747.46 209.53 L749.79 208.14 L752.12 206.74 L754.45 205.34 L756.78 203.94 L759.11 202.54 L761.44 201.13 L763.77 199.72 L766.1 198.31 L768.43 196.9 L770.76 195.49 L773.09 194.07 L775.42 192.65 L777.75 191.23 L780.08 189.81 L782.41 188.38 L784.74 186.95 L787.07 185.52 L789.4 184.08 L791.73 182.64 L794.06 181.2 L796.38 179.76 L798.71 178.31 L801.04 176.86 L803.37 175.41 L805.7 173.95 L808.03 172.49 L810.36 171.03 L812.69 169.56 L815.02 168.09 L817.35 166.62 L819.68 165.14 L822.01 163.66 L824.34 162.18 L826.67 160.69 L829 159.2 L830.66 158.13" fill="none" stroke="#ff00ff" stroke-width="1.35" stroke-linejoin="round"/>
<path d="M488.98 349.05 L491.58 345.83 L491.58 345.83 L494.76 343.42 L497.95 341.01 L501.13 338.6 L504.32 336.19 L507.51 333.78 L507.51 333.78 L509.84 332.55 L512.17 331.33 L514.5 330.14 L516.83 328.96 L519.16 327.81 L521.48 326.68 L523.81 325.55 L526.14 324.44 L528.47 323.33 L530.8 322.22 L533.13 321.1 L535.46 319.97 L537.79 318.84 L540.12 317.68 L542.45 316.51 L544.78 315.33 L547.11 314.14 L549.44 312.94 L551.77 311.74 L554.1 310.53 L556.43 309.32 L558.76 308.1 L561.09 306.88 L563.42 305.66 L565.75 304.45 L568.08 303.23 L570.41 302.02 L572.74 300.81 L575.07 299.61 L577.4 298.42 L579.73 297.24 L582.06 296.06 L584.39 294.9 L586.72 293.75 L589.05 292.61 L591.37 291.48 L593.7 290.35 L596.03 289.23 L598.36 288.11 L600.69 286.99 L603.02 285.88 L605.35 284.76 L607.68 283.64 L610.01 282.52 L612.34 281.39 L614.67 280.26 L617 279.12 L619.33 277.97 L621.66 276.81 L623.99 275.64 L626.32 274.46 L628.65 273.26 L630.98 272.05 L633.31 270.82 L635.64 269.57 L637.97 268.3 L640.3 267.02 L642.63 265.71 L644.96 264.38 L647.29 263.03 L649.62 261.66 L651.95 260.28 L654.28 258.88 L656.61 257.46 L658.93 256.03 L661.26 254.59 L663.59 253.14 L665.92 251.68 L668.25 250.2 L670.58 248.72 L672.91 247.23 L675.24 245.73 L677.57 244.22 L679.9 242.72 L682.23 241.2 L684.56 239.69 L686.89 238.17 L689.22 236.62 L691.55 235.06 L693.88 233.47 L696.21 231.87 L698.54 230.26 L700.87 228.65 L703.2 227.04 L705.53 225.45 L707.86 223.87 L710.19 222.31 L712.52 220.74 L714.85 219.18 L717.18 217.63 L719.51 216.07 L721.84 214.52 L724.17 212.97 L726.49 211.42 L728.82 209.88 L731.15 208.33 L733.48 206.79 L735.81 205.25 L738.14 203.71 L740.47 202.17 L742.8 200.64 L745.13 199.1 L747.46 197.57 L749.79 196.04 L752.12 194.51 L754.45 192.98 L756.78 191.45 L759.11 189.92 L761.44 188.39 L763.77 186.87 L766.1 185.34 L768.43 183.82 L770.76 182.29 L773.09 180.77 L775.42 179.25 L777.75 177.72 L780.08 176.2 L782.41 174.68 L784.74 173.15 L787.07 171.63 L789.4 170.11 L791.73 168.58 L794.06 167.06 L796.38 165.53 L798.71 164.01 L801.04 162.48 L803.37 160.95 L805.7 159.43 L808.03 157.9 L810.36 156.37 L812.69 154.84 L815.02 153.31 L817.35 151.78 L819.68 150.24 L822.01 148.71 L824.34 147.17 L826.67 145.63 L829 144.1 L830.66 143" fill="none" stroke="#808000" stroke-width="1.35" stroke-linejoin="round"/>
<path d="M487.43 349.05 L490.32 345.93 L493.21 342.8 L496.1 339.68 L499 336.55 L501.89 333.43 L504.78 330.3 L507.67 327.18 L507.67 327.18 L510.68 325.13 L513.68 323.09 L516.69 321.04 L519.69 319 L522.7 316.95 L525.71 314.91 L525.71 314.91 L528.04 313.64 L530.37 312.36 L532.7 311.1 L535.04 309.83 L537.37 308.58 L539.7 307.32 L542.04 306.08 L544.37 304.84 L546.7 303.62 L549.04 302.41 L551.37 301.2 L553.7 300 L556.04 298.81 L558.37 297.63 L560.7 296.44 L563.03 295.26 L565.37 294.07 L567.7 292.88 L570.03 291.69 L572.37 290.49 L574.7 289.29 L577.03 288.07 L579.37 286.84 L581.7 285.6 L584.03 284.35 L586.36 283.08 L588.7 281.81 L591.03 280.53 L593.36 279.25 L595.7 277.96 L598.03 276.67 L600.36 275.38 L602.7 274.08 L605.03 272.77 L607.36 271.46 L609.69 270.15 L612.03 268.83 L614.36 267.5 L616.69 266.17 L619.03 264.83 L621.36 263.49 L623.69 262.15 L626.03 260.79 L628.36 259.44 L630.69 258.07 L633.03 256.7 L635.36 255.33 L637.69 253.95 L640.02 252.56 L642.36 251.17 L644.69 249.77 L647.02 248.36 L649.36 246.95 L651.69 245.53 L654.02 244.11 L656.36 242.67 L658.69 241.24 L661.02 239.79 L663.35 238.34 L665.69 236.87 L668.02 235.4 L670.35 233.92 L672.69 232.43 L675.02 230.93 L677.35 229.42 L679.69 227.91 L682.02 226.38 L684.35 224.85 L686.69 223.31 L689.02 221.76 L691.35 220.2 L693.68 218.64 L696.02 217.06 L698.35 215.48 L700.68 213.89 L703.02 212.3 L705.35 210.69 L707.68 209.08 L710.02 207.46 L712.35 205.83 L714.68 204.2 L717.01 202.56 L719.35 200.92 L721.68 199.27 L724.01 197.62 L726.35 195.96 L728.68 194.3 L731.01 192.63 L733.35 190.96 L735.68 189.28 L738.01 187.6 L740.34 185.91 L742.68 184.22 L745.01 182.52 L747.34 180.82 L749.68 179.11 L752.01 177.39 L754.34 175.68 L756.68 173.95 L759.01 172.22 L761.34 170.49 L763.68 168.75 L766.01 167 L768.34 165.25 L770.67 163.49 L773.01 161.73 L775.34 159.96 L777.67 158.18 L780.01 156.4 L782.34 154.62 L784.67 152.82 L787.01 151.02 L789.34 149.22 L791.67 147.41 L794 145.59 L796.34 143.77 L798.67 141.94 L801 140.1 L803.34 138.26 L805.67 136.41 L808 134.56 L810.34 132.7 L812.67 130.83 L815 128.95 L817.33 127.07 L819.67 125.18 L822 123.29 L824.33 121.39 L826.67 119.48 L829 117.56 L830.66 116.2" fill="none" stroke="#008000" stroke-width="1.35" stroke-linejoin="round"/>
<path d="M485.97 349.05 L488.68 345.12 L491.39 341.24 L494.11 337.44 L496.82 333.7 L499.53 330 L502.25 326.36 L504.96 322.77 L507.67 319.24 L507.67 319.24 L510.68 316.47 L513.68 313.71 L516.69 310.94 L519.69 308.17 L522.7 305.41 L525.71 302.64 L525.71 302.64 L528.04 301.14 L530.37 299.65 L532.7 298.18 L535.04 296.72 L537.37 295.28 L539.7 293.85 L542.04 292.44 L544.37 291.05 L546.7 289.69 L549.04 288.36 L551.37 287.04 L553.7 285.72 L556.04 284.4 L558.37 283.07 L560.7 281.7 L563.03 280.29 L565.37 278.85 L567.7 277.39 L570.03 275.91 L572.37 274.42 L574.7 272.92 L577.03 271.42 L579.37 269.92 L581.7 268.43 L584.03 266.95 L586.36 265.47 L588.7 264 L591.03 262.52 L593.36 261.04 L595.7 259.56 L598.03 258.08 L600.36 256.6 L602.7 255.12 L605.03 253.63 L607.36 252.13 L609.69 250.63 L612.03 249.12 L614.36 247.6 L616.69 246.07 L619.03 244.54 L621.36 242.99 L623.69 241.45 L626.03 239.9 L628.36 238.35 L630.69 236.79 L633.03 235.22 L635.36 233.65 L637.69 232.07 L640.02 230.49 L642.36 228.9 L644.69 227.3 L647.02 225.69 L649.36 224.08 L651.69 222.45 L654.02 220.82 L656.36 219.17 L658.69 217.52 L661.02 215.85 L663.35 214.15 L665.69 212.43 L668.02 210.69 L670.35 208.94 L672.69 207.17 L675.02 205.4 L677.35 203.63 L679.69 201.84 L682.02 200.06 L684.35 198.26 L686.69 196.46 L689.02 194.65 L691.35 192.84 L693.68 191.02 L696.02 189.2 L698.35 187.37 L700.68 185.53 L703.02 183.69 L705.35 181.84 L707.68 179.98 L710.02 178.12 L712.35 176.26 L714.68 174.38 L717.01 172.5 L719.35 170.62 L721.68 168.73 L724.01 166.83 L726.35 164.93 L728.68 163.03 L731.01 161.11 L733.35 159.2 L735.68 157.27 L738.01 155.34 L740.34 153.4 L742.68 151.46 L745.01 149.5 L747.34 147.54 L749.68 145.57 L752.01 143.59 L754.34 141.6 L756.68 139.61 L759.01 137.6 L761.34 135.59 L763.68 133.56 L766.01 131.52 L768.34 129.48 L770.67 127.43 L773.01 125.37 L775.34 123.31 L777.67 121.24 L780.01 119.16 L782.34 117.07 L784.67 114.98 L787.01 112.87 L789.34 110.76 L791.67 108.65 L794 106.52 L796.34 104.39 L798.67 102.25 L801 100.1 L803.34 97.95 L805.67 95.78 L808 93.61 L810.34 91.43 L812.67 89.25 L815 87.05 L817.33 84.85 L819.67 82.64 L822 80.42 L824.33 78.19 L826.67 75.95 L829 73.71 L830.66 72.11" fill="none" stroke="#0000ff" stroke-width="1.35" stroke-linejoin="round"/>
</g>
<g clip-path="url(#clipoc)">
<path d="M116.65 795.9 L118.71 793.47 L120.76 791.03 L122.81 788.58 L124.87 786.12 L126.92 783.66 L128.97 781.18 L131.03 778.7 L133.08 776.21 L135.13 773.71 L137.19 771.19 L139.24 768.67 L141.29 766.14 L143.35 763.59 L145.4 761.04 L147.45 758.47 L149.51 755.89 L151.56 753.3 L153.61 750.7 L155.67 748.08 L157.72 745.45 L159.77 742.81 L161.83 740.16 L163.88 737.5 L165.93 734.83 L167.99 732.15 L170.04 729.45 L172.09 726.75 L174.14 724.04 L176.2 721.32 L178.25 718.6 L180.3 715.86 L182.36 713.12 L184.41 710.37 L186.46 707.61 L188.52 704.85 L190.57 702.08 L192.62 699.31 L194.68 696.53 L196.73 693.75 L198.78 690.96 L200.84 688.17 L202.89 685.37 L204.94 682.57 L207 679.77 L209.05 676.97 L211.1 674.16 L213.16 671.35 L215.21 668.54 L217.26 665.73 L219.32 662.92 L221.37 660.11 L223.42 657.29 L225.48 654.46 L227.53 651.6 L229.58 648.74 L231.64 645.86 L233.69 642.97 L235.74 640.07 L237.79 637.17 L239.85 634.26 L241.9 631.36 L243.95 628.45 L246.01 625.55 L248.06 622.65 L250.11 619.76 L252.17 616.88 L254.22 614.01 L256.27 611.15 L258.33 608.3 L260.38 605.48 L262.43 602.67 L264.49 599.89 L266.54 597.13 L268.59 594.39 L270.65 591.68 L272.7 588.98 L274.75 586.3 L276.81 583.63 L278.86 580.98 L280.91 578.33 L282.97 575.68 L285.02 573.04 L287.07 570.4 L289.13 567.76 L291.18 565.11 L293.23 562.45 L295.29 559.78 L297.34 557.1 L299.39 554.41 L301.45 551.69 L303.5 548.95 L305.55 546.19 L307.6 543.41 L309.66 540.62 L311.71 537.83 L313.76 535.03 L315.82 532.23 L317.87 529.42 L319.92 526.61 L321.98 523.79 L324.03 520.97 L326.08 518.14 L328.14 515.3 L330.19 512.46 L332.24 509.62 L334.3 506.77 L336.35 503.91 L338.4 501.05 L340.46 498.18 L342.51 495.3 L344.56 492.42 L346.62 489.54 L348.67 486.64 L350.72 483.74 L352.78 480.84 L354.83 477.92 L356.88 475.01 L358.94 472.08 L360.99 469.15 L363.04 466.21 L365.1 463.27 L367.15 460.31 L369.2 457.35 L371.25 454.39 L373.31 451.41 L375.36 448.43 L377.41 445.45 L379.47 442.45 L381.52 439.45 L383.57 436.44 L385.63 433.42 L387.68 430.4 L389.73 427.37 L391.79 424.33 L393.84 421.28 L395.89 418.23 L397.95 415.16 L400 412.09 L401.46 409.91" fill="none" stroke="#000000" stroke-width="1.3" stroke-linejoin="round"/>
<path d="M115.54 795.9 L117.58 793.47 L119.63 791.04 L121.68 788.6 L123.72 786.14 L125.77 783.68 L127.82 781.21 L129.86 778.72 L131.91 776.23 L133.96 773.72 L136 771.2 L138.05 768.67 L140.1 766.13 L142.14 763.58 L144.19 761.01 L146.23 758.43 L148.28 755.84 L150.33 753.23 L152.37 750.61 L154.42 747.98 L156.47 745.32 L158.51 742.66 L160.56 739.97 L162.61 737.27 L164.65 734.56 L166.7 731.84 L168.75 729.1 L170.79 726.36 L172.84 723.6 L174.89 720.83 L176.93 718.05 L178.98 715.26 L181.02 712.47 L183.07 709.67 L185.12 706.86 L187.16 704.04 L189.21 701.22 L191.26 698.4 L193.3 695.57 L195.35 692.74 L197.4 689.91 L199.44 687.07 L201.49 684.24 L203.54 681.4 L205.58 678.56 L207.63 675.73 L209.68 672.9 L211.72 670.06 L213.77 667.24 L215.82 664.41 L217.86 661.6 L219.91 658.78 L221.95 655.96 L224 653.12 L226.05 650.27 L228.09 647.42 L230.14 644.56 L232.19 641.69 L234.23 638.82 L236.28 635.95 L238.33 633.08 L240.37 630.21 L242.42 627.34 L244.47 624.48 L246.51 621.62 L248.56 618.77 L250.61 615.93 L252.65 613.1 L254.7 610.29 L256.75 607.48 L258.79 604.7 L260.84 601.92 L262.88 599.17 L264.93 596.44 L266.98 593.74 L269.02 591.05 L271.07 588.39 L273.12 585.74 L275.16 583.1 L277.21 580.47 L279.26 577.85 L281.3 575.23 L283.35 572.61 L285.4 569.99 L287.44 567.37 L289.49 564.74 L291.54 562.1 L293.58 559.45 L295.63 556.79 L297.68 554.1 L299.72 551.4 L301.77 548.67 L303.81 545.91 L305.86 543.14 L307.91 540.36 L309.95 537.57 L312 534.78 L314.05 531.98 L316.09 529.17 L318.14 526.36 L320.19 523.54 L322.23 520.72 L324.28 517.89 L326.33 515.06 L328.37 512.21 L330.42 509.37 L332.47 506.51 L334.51 503.65 L336.56 500.78 L338.61 497.91 L340.65 495.03 L342.7 492.14 L344.74 489.24 L346.79 486.34 L348.84 483.43 L350.88 480.51 L352.93 477.59 L354.98 474.66 L357.02 471.72 L359.07 468.77 L361.12 465.82 L363.16 462.86 L365.21 459.89 L367.26 456.91 L369.3 453.93 L371.35 450.94 L373.4 447.94 L375.44 444.93 L377.49 441.91 L379.54 438.88 L381.58 435.85 L383.63 432.81 L385.67 429.76 L387.72 426.7 L389.77 423.63 L391.81 420.55 L393.86 417.47 L395.91 414.37 L397.95 411.27 L400 408.16 L401.46 405.94" fill="none" stroke="#800080" stroke-width="1.3" stroke-linejoin="round"/>
<path d="M115.78 795.9 L117.82 793.49 L119.87 791.08 L121.91 788.65 L123.96 786.22 L126 783.78 L128.05 781.33 L130.09 778.87 L132.14 776.4 L134.18 773.91 L136.23 771.42 L138.27 768.92 L140.32 766.41 L142.36 763.88 L144.41 761.35 L146.45 758.8 L148.5 756.24 L150.54 753.66 L152.59 751.08 L154.63 748.48 L156.67 745.86 L158.72 743.24 L160.76 740.6 L162.81 737.95 L164.85 735.29 L166.9 732.62 L168.94 729.93 L170.99 727.24 L173.03 724.54 L175.08 721.83 L177.12 719.11 L179.17 716.38 L181.21 713.64 L183.26 710.9 L185.3 708.15 L187.35 705.39 L189.39 702.63 L191.44 699.86 L193.48 697.08 L195.53 694.3 L197.57 691.52 L199.61 688.73 L201.66 685.94 L203.7 683.15 L205.75 680.35 L207.79 677.55 L209.84 674.75 L211.88 671.95 L213.93 669.15 L215.97 666.34 L218.02 663.54 L220.06 660.74 L222.11 657.93 L224.15 655.11 L226.2 652.27 L228.24 649.41 L230.29 646.55 L232.33 643.67 L234.38 640.79 L236.42 637.9 L238.46 635.01 L240.51 632.11 L242.55 629.22 L244.6 626.32 L246.64 623.43 L248.69 620.55 L250.73 617.68 L252.78 614.81 L254.82 611.96 L256.87 609.12 L258.91 606.3 L260.96 603.5 L263 600.72 L265.05 597.96 L267.09 595.22 L269.14 592.5 L271.18 589.81 L273.23 587.12 L275.27 584.46 L277.32 581.8 L279.36 579.15 L281.4 576.51 L283.45 573.87 L285.49 571.23 L287.54 568.59 L289.58 565.95 L291.63 563.3 L293.67 560.64 L295.72 557.97 L297.76 555.28 L299.81 552.58 L301.85 549.86 L303.9 547.12 L305.94 544.35 L307.99 541.57 L310.03 538.79 L312.08 536.01 L314.12 533.22 L316.17 530.42 L318.21 527.63 L320.25 524.82 L322.3 522.01 L324.34 519.2 L326.39 516.38 L328.43 513.56 L330.48 510.73 L332.52 507.89 L334.57 505.05 L336.61 502.21 L338.66 499.36 L340.7 496.5 L342.75 493.64 L344.79 490.77 L346.84 487.9 L348.88 485.02 L350.93 482.14 L352.97 479.24 L355.02 476.35 L357.06 473.45 L359.11 470.54 L361.15 467.62 L363.19 464.7 L365.24 461.77 L367.28 458.84 L369.33 455.9 L371.37 452.95 L373.42 450 L375.46 447.04 L377.51 444.07 L379.55 441.1 L381.6 438.11 L383.64 435.13 L385.69 432.13 L387.73 429.13 L389.78 426.12 L391.82 423.11 L393.87 420.08 L395.91 417.05 L397.96 414.01 L400 410.97 L401.46 408.8" fill="none" stroke="#ff0000" stroke-width="1.3" stroke-linejoin="round"/>
<path d="M115.29 795.9 L117.34 793.45 L119.39 790.98 L121.44 788.51 L123.49 786.03 L125.54 783.54 L127.58 781.04 L129.63 778.52 L131.68 776 L133.73 773.46 L135.78 770.92 L137.82 768.36 L139.87 765.78 L141.92 763.2 L143.97 760.6 L146.02 757.99 L148.07 755.37 L150.11 752.73 L152.16 750.07 L154.21 747.4 L156.26 744.72 L158.31 742.02 L160.36 739.3 L162.4 736.57 L164.45 733.82 L166.5 731.07 L168.55 728.3 L170.6 725.52 L172.64 722.72 L174.69 719.92 L176.74 717.11 L178.79 714.29 L180.84 711.46 L182.89 708.63 L184.93 705.78 L186.98 702.94 L189.03 700.08 L191.08 697.23 L193.13 694.37 L195.18 691.5 L197.22 688.64 L199.27 685.77 L201.32 682.9 L203.37 680.03 L205.42 677.16 L207.47 674.3 L209.51 671.43 L211.56 668.57 L213.61 665.71 L215.66 662.85 L217.71 660.01 L219.75 657.15 L221.8 654.28 L223.85 651.4 L225.9 648.51 L227.95 645.61 L230 642.71 L232.04 639.8 L234.09 636.89 L236.14 633.98 L238.19 631.07 L240.24 628.16 L242.29 625.25 L244.33 622.36 L246.38 619.47 L248.43 616.59 L250.48 613.72 L252.53 610.87 L254.57 608.03 L256.62 605.21 L258.67 602.41 L260.72 599.63 L262.77 596.88 L264.82 594.15 L266.86 591.45 L268.91 588.78 L270.96 586.12 L273.01 583.47 L275.06 580.84 L277.11 578.22 L279.15 575.6 L281.2 572.98 L283.25 570.36 L285.3 567.74 L287.35 565.1 L289.39 562.46 L291.44 559.8 L293.49 557.13 L295.54 554.43 L297.59 551.71 L299.64 548.96 L301.68 546.18 L303.73 543.37 L305.78 540.55 L307.83 537.73 L309.88 534.9 L311.93 532.06 L313.97 529.21 L316.02 526.36 L318.07 523.5 L320.12 520.63 L322.17 517.76 L324.21 514.87 L326.26 511.98 L328.31 509.08 L330.36 506.18 L332.41 503.26 L334.46 500.34 L336.5 497.41 L338.55 494.47 L340.6 491.52 L342.65 488.57 L344.7 485.6 L346.75 482.63 L348.79 479.65 L350.84 476.66 L352.89 473.66 L354.94 470.65 L356.99 467.63 L359.04 464.6 L361.08 461.56 L363.13 458.52 L365.18 455.46 L367.23 452.4 L369.28 449.32 L371.32 446.24 L373.37 443.14 L375.42 440.04 L377.47 436.93 L379.52 433.8 L381.57 430.67 L383.61 427.52 L385.66 424.37 L387.71 421.2 L389.76 418.02 L391.81 414.84 L393.86 411.64 L395.9 408.43 L397.95 405.21 L400 401.98 L401.46 399.68" fill="none" stroke="#800000" stroke-width="1.3" stroke-linejoin="round"/>
<path d="M114.57 795.9 L116.6 793.4 L118.64 790.88 L120.68 788.36 L122.72 785.83 L124.76 783.29 L126.8 780.74 L128.84 778.19 L130.88 775.62 L132.91 773.04 L134.95 770.45 L136.99 767.85 L139.03 765.23 L141.07 762.61 L143.11 759.97 L145.15 757.32 L147.19 754.66 L149.23 751.99 L151.26 749.3 L153.3 746.59 L155.34 743.87 L157.38 741.14 L159.42 738.4 L161.46 735.64 L163.5 732.87 L165.54 730.09 L167.57 727.29 L169.61 724.49 L171.65 721.68 L173.69 718.85 L175.73 716.02 L177.77 713.19 L179.81 710.34 L181.85 707.49 L183.89 704.63 L185.92 701.77 L187.96 698.91 L190 696.04 L192.04 693.16 L194.08 690.29 L196.12 687.41 L198.16 684.53 L200.2 681.65 L202.23 678.77 L204.27 675.89 L206.31 673.01 L208.35 670.13 L210.39 667.26 L212.43 664.39 L214.47 661.52 L216.51 658.65 L218.55 655.78 L220.58 652.89 L222.62 649.99 L224.66 647.08 L226.7 644.17 L228.74 641.25 L230.78 638.33 L232.82 635.4 L234.86 632.48 L236.89 629.55 L238.93 626.63 L240.97 623.72 L243.01 620.81 L245.05 617.91 L247.09 615.02 L249.13 612.14 L251.17 609.27 L253.21 606.42 L255.24 603.59 L257.28 600.77 L259.32 597.98 L261.36 595.22 L263.4 592.47 L265.44 589.75 L267.48 587.05 L269.52 584.37 L271.55 581.69 L273.59 579.03 L275.63 576.36 L277.67 573.7 L279.71 571.04 L281.75 568.38 L283.79 565.71 L285.83 563.02 L287.86 560.32 L289.9 557.61 L291.94 554.87 L293.98 552.11 L296.02 549.32 L298.06 546.51 L300.1 543.66 L302.14 540.8 L304.18 537.94 L306.21 535.07 L308.25 532.19 L310.29 529.31 L312.33 526.42 L314.37 523.52 L316.41 520.61 L318.45 517.7 L320.49 514.78 L322.52 511.85 L324.56 508.92 L326.6 505.98 L328.64 503.03 L330.68 500.07 L332.72 497.1 L334.76 494.12 L336.8 491.14 L338.84 488.15 L340.87 485.15 L342.91 482.14 L344.95 479.13 L346.99 476.1 L349.03 473.07 L351.07 470.02 L353.11 466.97 L355.15 463.91 L357.18 460.84 L359.22 457.76 L361.26 454.67 L363.3 451.58 L365.34 448.47 L367.38 445.35 L369.42 442.23 L371.46 439.09 L373.5 435.94 L375.53 432.79 L377.57 429.62 L379.61 426.45 L381.65 423.26 L383.69 420.06 L385.73 416.86 L387.77 413.64 L389.81 410.41 L391.84 407.17 L393.88 403.92 L395.92 400.66 L397.96 397.39 L400 394.11 L401.46 391.76" fill="none" stroke="#ff00ff" stroke-width="1.3" stroke-linejoin="round"/>
<path d="M113.84 795.9 L115.88 793.24 L117.92 790.58 L119.97 787.92 L122.01 785.25 L124.06 782.57 L126.1 779.89 L128.14 777.2 L130.19 774.51 L132.23 771.81 L134.28 769.1 L136.32 766.39 L138.36 763.67 L140.41 760.95 L142.45 758.21 L144.5 755.47 L146.54 752.72 L148.59 749.97 L150.63 747.2 L152.67 744.43 L154.72 741.66 L156.76 738.87 L158.81 736.09 L160.85 733.3 L162.89 730.5 L164.94 727.7 L166.98 724.89 L169.03 722.07 L171.07 719.26 L173.11 716.43 L175.16 713.61 L177.2 710.78 L179.25 707.94 L181.29 705.1 L183.33 702.25 L185.38 699.4 L187.42 696.55 L189.47 693.69 L191.51 690.83 L193.55 687.97 L195.6 685.1 L197.64 682.23 L199.69 679.35 L201.73 676.47 L203.77 673.59 L205.82 670.71 L207.86 667.82 L209.91 664.93 L211.95 662.04 L213.99 659.14 L216.04 656.23 L218.08 653.3 L220.13 650.37 L222.17 647.42 L224.21 644.46 L226.26 641.49 L228.3 638.52 L230.35 635.54 L232.39 632.57 L234.43 629.59 L236.48 626.61 L238.52 623.63 L240.57 620.66 L242.61 617.69 L244.65 614.73 L246.7 611.78 L248.74 608.84 L250.79 605.92 L252.83 603.01 L254.87 600.11 L256.92 597.24 L258.96 594.39 L261.01 591.55 L263.05 588.73 L265.09 585.93 L267.14 583.13 L269.18 580.34 L271.23 577.56 L273.27 574.78 L275.31 572 L277.36 569.22 L279.4 566.43 L281.45 563.63 L283.49 560.82 L285.53 557.99 L287.58 555.15 L289.62 552.29 L291.67 549.41 L293.71 546.5 L295.75 543.57 L297.8 540.63 L299.84 537.67 L301.89 534.71 L303.93 531.73 L305.97 528.75 L308.02 525.75 L310.06 522.75 L312.11 519.73 L314.15 516.71 L316.2 513.68 L318.24 510.64 L320.28 507.59 L322.33 504.54 L324.37 501.48 L326.42 498.41 L328.46 495.33 L330.5 492.25 L332.55 489.16 L334.59 486.07 L336.64 482.97 L338.68 479.86 L340.72 476.75 L342.77 473.64 L344.81 470.52 L346.86 467.4 L348.9 464.27 L350.94 461.14 L352.99 458.01 L355.03 454.87 L357.08 451.73 L359.12 448.59 L361.16 445.45 L363.21 442.3 L365.25 439.16 L367.3 436.01 L369.34 432.86 L371.38 429.71 L373.43 426.56 L375.47 423.41 L377.52 420.26 L379.56 417.11 L381.6 413.97 L383.65 410.82 L385.69 407.67 L387.74 404.53 L389.78 401.39 L391.82 398.25 L393.87 395.11 L395.91 391.98 L397.96 388.84 L400 385.68 L401.46 383.43" fill="none" stroke="#0000ff" stroke-width="1.3" stroke-linejoin="round"/>
<path d="M112.91 795.9 L114.96 793.08 L117.01 790.25 L119.07 787.42 L121.12 784.59 L123.17 781.76 L125.22 778.92 L127.27 776.09 L129.32 773.25 L131.37 770.4 L133.42 767.56 L135.47 764.71 L137.52 761.86 L139.57 759.01 L141.62 756.15 L143.67 753.29 L145.72 750.43 L147.77 747.56 L149.82 744.69 L151.88 741.82 L153.93 738.95 L155.98 736.08 L158.03 733.2 L160.08 730.32 L162.13 727.45 L164.18 724.56 L166.23 721.68 L168.28 718.8 L170.33 715.91 L172.38 713.02 L174.43 710.13 L176.48 707.24 L178.53 704.34 L180.58 701.45 L182.63 698.55 L184.69 695.65 L186.74 692.74 L188.79 689.84 L190.84 686.93 L192.89 684.02 L194.94 681.11 L196.99 678.2 L199.04 675.28 L201.09 672.36 L203.14 669.44 L205.19 666.52 L207.24 663.59 L209.29 660.66 L211.34 657.73 L213.39 654.79 L215.44 651.85 L217.5 648.9 L219.55 645.95 L221.6 642.99 L223.65 640.03 L225.7 637.06 L227.75 634.09 L229.8 631.12 L231.85 628.15 L233.9 625.18 L235.95 622.21 L238 619.24 L240.05 616.27 L242.1 613.31 L244.15 610.34 L246.2 607.38 L248.25 604.42 L250.3 601.46 L252.36 598.51 L254.41 595.58 L256.46 592.65 L258.51 589.74 L260.56 586.83 L262.61 583.93 L264.66 581.03 L266.71 578.13 L268.76 575.22 L270.81 572.32 L272.86 569.4 L274.91 566.48 L276.96 563.55 L279.01 560.6 L281.06 557.64 L283.11 554.66 L285.17 551.65 L287.22 548.63 L289.27 545.58 L291.32 542.5 L293.37 539.42 L295.42 536.32 L297.47 533.21 L299.52 530.09 L301.57 526.95 L303.62 523.81 L305.67 520.65 L307.72 517.48 L309.77 514.3 L311.82 511.12 L313.87 507.92 L315.92 504.71 L317.98 501.5 L320.03 498.27 L322.08 495.04 L324.13 491.8 L326.18 488.55 L328.23 485.3 L330.28 482.04 L332.33 478.77 L334.38 475.5 L336.43 472.22 L338.48 468.93 L340.53 465.64 L342.58 462.35 L344.63 459.05 L346.68 455.75 L348.73 452.44 L350.79 449.13 L352.84 445.82 L354.89 442.51 L356.94 439.19 L358.99 435.87 L361.04 432.55 L363.09 429.23 L365.14 425.91 L367.19 422.59 L369.24 419.27 L371.29 415.94 L373.34 412.62 L375.39 409.3 L377.44 405.99 L379.49 402.67 L381.54 399.35 L383.6 396.04 L385.65 392.73 L387.7 389.42 L389.75 386.1 L391.8 382.77 L393.85 379.43 L395.9 376.08 L397.95 372.73 L400 369.38 L401.46 367" fill="none" stroke="#808000" stroke-width="1.3" stroke-linejoin="round"/>
</g>
<g clip-path="url(#clipod)">
<path d="M536.22 793.7 L538.26 791.31 L540.3 788.92 L542.35 786.51 L544.39 784.11 L546.43 781.69 L548.47 779.26 L550.51 776.83 L552.56 774.38 L554.6 771.93 L556.64 769.47 L558.68 767 L560.72 764.52 L562.77 762.02 L564.81 759.52 L566.85 757 L568.89 754.47 L570.94 751.93 L572.98 749.38 L575.02 746.82 L577.06 744.25 L579.1 741.67 L581.15 739.08 L583.19 736.48 L585.23 733.88 L587.27 731.28 L589.32 728.67 L591.36 726.05 L593.4 723.44 L595.44 720.82 L597.48 718.2 L599.53 715.59 L601.57 712.97 L603.61 710.36 L605.65 707.75 L607.7 705.14 L609.74 702.54 L611.78 699.94 L613.82 697.35 L615.86 694.76 L617.91 692.17 L619.95 689.58 L621.99 686.99 L624.03 684.4 L626.08 681.82 L628.12 679.23 L630.16 676.64 L632.2 674.05 L634.24 671.47 L636.29 668.88 L638.33 666.29 L640.37 663.69 L642.41 661.1 L644.46 658.5 L646.5 655.91 L648.54 653.31 L650.58 650.71 L652.62 648.1 L654.67 645.5 L656.71 642.89 L658.75 640.27 L660.79 637.65 L662.83 635.03 L664.88 632.41 L666.92 629.78 L668.96 627.15 L671 624.51 L673.05 621.88 L675.09 619.24 L677.13 616.6 L679.17 613.95 L681.21 611.31 L683.26 608.66 L685.3 606.01 L687.34 603.35 L689.38 600.69 L691.43 598.03 L693.47 595.37 L695.51 592.7 L697.55 590.03 L699.59 587.35 L701.64 584.67 L703.68 581.99 L705.72 579.3 L707.76 576.6 L709.81 573.91 L711.85 571.2 L713.89 568.5 L715.93 565.78 L717.97 563.07 L720.02 560.34 L722.06 557.61 L724.1 554.88 L726.14 552.13 L728.19 549.38 L730.23 546.63 L732.27 543.86 L734.31 541.09 L736.35 538.31 L738.4 535.52 L740.44 532.74 L742.48 529.95 L744.52 527.16 L746.57 524.37 L748.61 521.57 L750.65 518.77 L752.69 515.97 L754.73 513.17 L756.78 510.36 L758.82 507.55 L760.86 504.74 L762.9 501.92 L764.94 499.1 L766.99 496.28 L769.03 493.46 L771.07 490.63 L773.11 487.79 L775.16 484.96 L777.2 482.12 L779.24 479.27 L781.28 476.43 L783.32 473.57 L785.37 470.72 L787.41 467.86 L789.45 465 L791.49 462.13 L793.54 459.26 L795.58 456.38 L797.62 453.5 L799.66 450.62 L801.7 447.73 L803.75 444.84 L805.79 441.94 L807.83 439.04 L809.87 436.13 L811.92 433.22 L813.96 430.3 L816 427.38 L817.46 425.29" fill="none" stroke="#000000" stroke-width="1.3" stroke-linejoin="round"/>
<path d="M531.79 793.7 L533.84 791.38 L535.88 789.06 L537.93 786.72 L539.97 784.38 L542.02 782.03 L544.06 779.66 L546.11 777.28 L548.15 774.9 L550.2 772.5 L552.24 770.09 L554.29 767.66 L556.33 765.22 L558.37 762.77 L560.42 760.31 L562.46 757.83 L564.51 755.33 L566.55 752.81 L568.6 750.28 L570.64 747.74 L572.69 745.18 L574.73 742.6 L576.78 740.02 L578.82 737.43 L580.87 734.83 L582.91 732.22 L584.96 729.61 L587 726.99 L589.04 724.37 L591.09 721.75 L593.13 719.12 L595.18 716.5 L597.22 713.87 L599.27 711.25 L601.31 708.64 L603.36 706.03 L605.4 703.42 L607.45 700.83 L609.49 698.24 L611.54 695.66 L613.58 693.09 L615.62 690.52 L617.67 687.96 L619.71 685.4 L621.76 682.85 L623.8 680.3 L625.85 677.75 L627.89 675.2 L629.94 672.65 L631.98 670.11 L634.03 667.56 L636.07 665.01 L638.12 662.45 L640.16 659.9 L642.21 657.34 L644.25 654.77 L646.29 652.2 L648.34 649.62 L650.38 647.04 L652.43 644.45 L654.47 641.85 L656.52 639.24 L658.56 636.62 L660.61 633.98 L662.65 631.34 L664.7 628.69 L666.74 626.01 L668.79 623.33 L670.83 620.63 L672.87 617.93 L674.92 615.21 L676.96 612.48 L679.01 609.74 L681.05 607 L683.1 604.25 L685.14 601.5 L687.19 598.74 L689.23 595.97 L691.28 593.21 L693.32 590.44 L695.37 587.68 L697.41 584.91 L699.46 582.15 L701.5 579.39 L703.54 576.63 L705.59 573.88 L707.63 571.14 L709.68 568.4 L711.72 565.67 L713.77 562.95 L715.81 560.24 L717.86 557.52 L719.9 554.81 L721.95 552.09 L723.99 549.37 L726.04 546.64 L728.08 543.9 L730.12 541.15 L732.17 538.39 L734.21 535.63 L736.26 532.86 L738.3 530.09 L740.35 527.32 L742.39 524.55 L744.44 521.78 L746.48 519 L748.53 516.23 L750.57 513.45 L752.62 510.66 L754.66 507.88 L756.71 505.09 L758.75 502.3 L760.79 499.51 L762.84 496.71 L764.88 493.91 L766.93 491.11 L768.97 488.31 L771.02 485.5 L773.06 482.69 L775.11 479.88 L777.15 477.06 L779.2 474.24 L781.24 471.42 L783.29 468.59 L785.33 465.76 L787.37 462.93 L789.42 460.09 L791.46 457.25 L793.51 454.41 L795.55 451.56 L797.6 448.71 L799.64 445.86 L801.69 443 L803.73 440.14 L805.78 437.27 L807.82 434.4 L809.87 431.53 L811.91 428.65 L813.96 425.77 L816 422.88 L817.46 420.82" fill="none" stroke="#800080" stroke-width="1.3" stroke-linejoin="round"/>
<path d="M535.2 793.7 L537.25 791.28 L539.3 788.86 L541.35 786.43 L543.4 783.99 L545.45 781.54 L547.5 779.09 L549.55 776.63 L551.59 774.16 L553.64 771.68 L555.69 769.19 L557.74 766.7 L559.79 764.19 L561.84 761.67 L563.89 759.15 L565.94 756.61 L567.99 754.06 L570.04 751.49 L572.09 748.92 L574.14 746.34 L576.19 743.75 L578.24 741.15 L580.29 738.54 L582.34 735.93 L584.39 733.31 L586.44 730.69 L588.49 728.06 L590.54 725.43 L592.59 722.8 L594.64 720.17 L596.69 717.54 L598.74 714.91 L600.79 712.28 L602.84 709.66 L604.89 707.04 L606.94 704.42 L608.99 701.81 L611.03 699.2 L613.08 696.6 L615.13 694 L617.18 691.4 L619.23 688.8 L621.28 686.21 L623.33 683.61 L625.38 681.02 L627.43 678.42 L629.48 675.83 L631.53 673.24 L633.58 670.64 L635.63 668.05 L637.68 665.45 L639.73 662.85 L641.78 660.25 L643.83 657.65 L645.88 655.05 L647.93 652.44 L649.98 649.84 L652.03 647.23 L654.08 644.61 L656.13 642 L658.18 639.38 L660.23 636.75 L662.28 634.12 L664.33 631.49 L666.38 628.85 L668.42 626.21 L670.47 623.57 L672.52 620.93 L674.57 618.28 L676.62 615.63 L678.67 612.98 L680.72 610.32 L682.77 607.67 L684.82 605.01 L686.87 602.34 L688.92 599.68 L690.97 597 L693.02 594.33 L695.07 591.65 L697.12 588.97 L699.17 586.29 L701.22 583.6 L703.27 580.9 L705.32 578.2 L707.37 575.5 L709.42 572.79 L711.47 570.08 L713.52 567.36 L715.57 564.64 L717.62 561.91 L719.67 559.17 L721.72 556.43 L723.77 553.68 L725.82 550.93 L727.86 548.17 L729.91 545.4 L731.96 542.62 L734.01 539.84 L736.06 537.05 L738.11 534.26 L740.16 531.47 L742.21 528.67 L744.26 525.87 L746.31 523.07 L748.36 520.27 L750.41 517.47 L752.46 514.66 L754.51 511.85 L756.56 509.03 L758.61 506.22 L760.66 503.4 L762.71 500.57 L764.76 497.75 L766.81 494.92 L768.86 492.09 L770.91 489.25 L772.96 486.41 L775.01 483.57 L777.06 480.73 L779.11 477.88 L781.16 475.03 L783.21 472.17 L785.26 469.31 L787.3 466.45 L789.35 463.58 L791.4 460.71 L793.45 457.83 L795.5 454.95 L797.55 452.07 L799.6 449.18 L801.65 446.29 L803.7 443.39 L805.75 440.49 L807.8 437.58 L809.85 434.67 L811.9 431.76 L813.95 428.84 L816 425.92 L817.46 423.84" fill="none" stroke="#ff0000" stroke-width="1.3" stroke-linejoin="round"/>
<path d="M525.52 793.7 L527.57 791.61 L529.61 789.51 L531.66 787.4 L533.71 785.27 L535.75 783.13 L537.8 780.97 L539.84 778.79 L541.89 776.6 L543.93 774.39 L545.98 772.17 L548.02 769.93 L550.07 767.66 L552.12 765.39 L554.16 763.09 L556.21 760.77 L558.25 758.43 L560.3 756.07 L562.34 753.68 L564.39 751.28 L566.44 748.85 L568.48 746.4 L570.53 743.94 L572.57 741.45 L574.62 738.96 L576.66 736.45 L578.71 733.92 L580.75 731.39 L582.8 728.84 L584.85 726.28 L586.89 723.72 L588.94 721.15 L590.98 718.58 L593.03 716 L595.07 713.41 L597.12 710.83 L599.17 708.25 L601.21 705.67 L603.26 703.09 L605.3 700.51 L607.35 697.94 L609.39 695.37 L611.44 692.81 L613.48 690.25 L615.53 687.69 L617.58 685.13 L619.62 682.57 L621.67 680 L623.71 677.43 L625.76 674.86 L627.8 672.28 L629.85 669.7 L631.89 667.12 L633.94 664.53 L635.99 661.94 L638.03 659.35 L640.08 656.74 L642.12 654.14 L644.17 651.52 L646.21 648.91 L648.26 646.28 L650.31 643.65 L652.35 641.01 L654.4 638.36 L656.44 635.71 L658.49 633.04 L660.53 630.37 L662.58 627.69 L664.62 625 L666.67 622.3 L668.72 619.59 L670.76 616.88 L672.81 614.15 L674.85 611.42 L676.9 608.69 L678.94 605.94 L680.99 603.19 L683.04 600.43 L685.08 597.67 L687.13 594.9 L689.17 592.13 L691.22 589.35 L693.26 586.57 L695.31 583.79 L697.35 581 L699.4 578.2 L701.45 575.41 L703.49 572.61 L705.54 569.81 L707.58 567.01 L709.63 564.21 L711.67 561.4 L713.72 558.58 L715.77 555.75 L717.81 552.91 L719.86 550.06 L721.9 547.21 L723.95 544.37 L725.99 541.52 L728.04 538.68 L730.08 535.84 L732.13 533 L734.18 530.16 L736.22 527.32 L738.27 524.48 L740.31 521.64 L742.36 518.8 L744.4 515.96 L746.45 513.12 L748.49 510.28 L750.54 507.44 L752.59 504.6 L754.63 501.76 L756.68 498.92 L758.72 496.08 L760.77 493.24 L762.81 490.4 L764.86 487.56 L766.91 484.72 L768.95 481.88 L771 479.03 L773.04 476.19 L775.09 473.35 L777.13 470.51 L779.18 467.67 L781.22 464.82 L783.27 461.98 L785.32 459.14 L787.36 456.29 L789.41 453.45 L791.45 450.61 L793.5 447.76 L795.54 444.92 L797.59 442.08 L799.64 439.23 L801.68 436.39 L803.73 433.54 L805.77 430.7 L807.82 427.85 L809.86 425.01 L811.91 422.16 L813.95 419.31 L816 416.47 L817.46 414.44" fill="none" stroke="#800000" stroke-width="1.3" stroke-linejoin="round"/>
<path d="M520.18 793.7 L522.83 790.46 L525.48 787.22 L528.14 783.98 L530.79 780.74 L533.45 777.5 L533.45 777.5 L535.49 775.49 L537.54 773.47 L539.59 771.43 L541.64 769.36 L543.68 767.27 L545.73 765.14 L547.78 762.97 L549.83 760.75 L551.87 758.49 L553.92 756.2 L555.97 753.86 L558.02 751.49 L560.06 749.09 L562.11 746.66 L564.16 744.21 L566.21 741.73 L568.25 739.22 L570.3 736.7 L572.35 734.16 L574.4 731.6 L576.44 729.03 L578.49 726.44 L580.54 723.85 L582.59 721.25 L584.63 718.65 L586.68 716.04 L588.73 713.44 L590.78 710.83 L592.82 708.23 L594.87 705.64 L596.92 703.05 L598.97 700.48 L601.01 697.92 L603.06 695.38 L605.11 692.85 L607.16 690.35 L609.2 687.86 L611.25 685.39 L613.3 682.94 L615.35 680.49 L617.39 678.06 L619.44 675.64 L621.49 673.22 L623.54 670.81 L625.58 668.4 L627.63 665.99 L629.68 663.58 L631.73 661.17 L633.77 658.75 L635.82 656.32 L637.87 653.88 L639.92 651.44 L641.96 648.97 L644.01 646.5 L646.06 644 L648.11 641.49 L650.15 638.95 L652.2 636.39 L654.25 633.8 L656.3 631.19 L658.34 628.54 L660.39 625.86 L662.44 623.13 L664.49 620.37 L666.53 617.58 L668.58 614.76 L670.63 611.92 L672.68 609.06 L674.72 606.18 L676.77 603.29 L678.82 600.39 L680.87 597.48 L682.91 594.58 L684.96 591.67 L687.01 588.78 L689.06 585.89 L691.1 583.02 L693.15 580.16 L695.2 577.32 L697.25 574.51 L699.29 571.73 L701.34 568.99 L703.39 566.28 L705.44 563.6 L707.48 560.93 L709.53 558.25 L711.58 555.54 L713.63 552.83 L715.67 550.12 L717.72 547.39 L719.77 544.65 L721.82 541.89 L723.86 539.09 L725.91 536.29 L727.96 533.48 L730.01 530.67 L732.05 527.86 L734.1 525.04 L736.15 522.22 L738.2 519.39 L740.24 516.56 L742.29 513.73 L744.34 510.89 L746.39 508.04 L748.43 505.2 L750.48 502.34 L752.53 499.48 L754.58 496.62 L756.62 493.75 L758.67 490.88 L760.72 488 L762.77 485.11 L764.81 482.22 L766.86 479.32 L768.91 476.42 L770.96 473.51 L773 470.6 L775.05 467.67 L777.1 464.75 L779.15 461.81 L781.19 458.87 L783.24 455.92 L785.29 452.96 L787.34 450 L789.38 447.03 L791.43 444.05 L793.48 441.07 L795.53 438.07 L797.57 435.07 L799.62 432.07 L801.67 429.05 L803.72 426.02 L805.76 422.99 L807.81 419.95 L809.86 416.9 L811.91 413.84 L813.95 410.77 L816 407.7 L817.46 405.5" fill="none" stroke="#ff0080" stroke-width="1.3" stroke-linejoin="round"/>
<path d="M518.33 793.7 L520.82 789.86 L523.32 786.01 L525.81 782.17 L528.31 778.33 L530.81 774.49 L533.3 770.64 L533.3 770.64 L535.35 768.51 L537.4 766.38 L539.45 764.22 L541.5 762.04 L543.54 759.81 L545.59 757.54 L547.64 755.25 L549.69 752.94 L551.74 750.62 L553.79 748.27 L555.84 745.91 L557.88 743.53 L559.93 741.14 L561.98 738.74 L564.03 736.32 L566.08 733.9 L568.13 731.46 L570.18 729.02 L572.22 726.57 L574.27 724.12 L576.32 721.66 L578.37 719.2 L580.42 716.73 L582.47 714.27 L584.52 711.8 L586.56 709.34 L588.61 706.88 L590.66 704.42 L592.71 701.97 L594.76 699.53 L596.81 697.1 L598.85 694.67 L600.9 692.25 L602.95 689.85 L605 687.46 L607.05 685.09 L609.1 682.75 L611.15 680.41 L613.19 678.09 L615.24 675.78 L617.29 673.48 L619.34 671.18 L621.39 668.88 L623.44 666.58 L625.49 664.28 L627.53 661.97 L629.58 659.65 L631.63 657.32 L633.68 654.98 L635.73 652.62 L637.78 650.24 L639.83 647.84 L641.87 645.41 L643.92 642.96 L645.97 640.47 L648.02 637.96 L650.07 635.4 L652.12 632.81 L654.17 630.18 L656.21 627.49 L658.26 624.75 L660.31 621.96 L662.36 619.12 L664.41 616.23 L666.46 613.31 L668.51 610.35 L670.55 607.36 L672.6 604.35 L674.65 601.31 L676.7 598.26 L678.75 595.2 L680.8 592.13 L682.84 589.06 L684.89 585.99 L686.94 582.93 L688.99 579.89 L691.04 576.85 L693.09 573.84 L695.14 570.86 L697.18 567.89 L699.23 564.92 L701.28 561.95 L703.33 558.98 L705.38 556.01 L707.43 553.04 L709.48 550.07 L711.52 547.09 L713.57 544.1 L715.62 541.12 L717.67 538.14 L719.72 535.16 L721.77 532.18 L723.82 529.2 L725.86 526.22 L727.91 523.24 L729.96 520.26 L732.01 517.28 L734.06 514.3 L736.11 511.32 L738.16 508.34 L740.2 505.37 L742.25 502.39 L744.3 499.41 L746.35 496.43 L748.4 493.45 L750.45 490.48 L752.5 487.5 L754.54 484.52 L756.59 481.54 L758.64 478.57 L760.69 475.59 L762.74 472.62 L764.79 469.64 L766.84 466.66 L768.88 463.69 L770.93 460.71 L772.98 457.74 L775.03 454.76 L777.08 451.79 L779.13 448.81 L781.17 445.84 L783.22 442.86 L785.27 439.89 L787.32 436.92 L789.37 433.94 L791.42 430.97 L793.47 428 L795.51 425.03 L797.56 422.06 L799.61 419.08 L801.66 416.11 L803.71 413.14 L805.76 410.17 L807.81 407.2 L809.85 404.23 L811.9 401.26 L813.95 398.29 L816 395.32 L817.46 393.21" fill="none" stroke="#0000ff" stroke-width="1.3" stroke-linejoin="round"/>
<path d="M517.16 793.7 L519.45 787.18 L519.45 787.18 L522.25 782.3 L525.05 777.41 L527.85 772.53 L530.65 767.65 L533.45 762.77 L533.45 762.77 L535.49 760.28 L537.54 757.81 L539.59 755.38 L541.64 753 L543.68 750.67 L545.73 748.37 L547.78 746.09 L549.83 743.84 L551.87 741.58 L553.92 739.33 L555.97 737.07 L558.02 734.79 L560.06 732.49 L562.11 730.15 L564.16 727.78 L566.21 725.39 L568.25 722.98 L570.3 720.55 L572.35 718.11 L574.4 715.66 L576.44 713.2 L578.49 710.73 L580.54 708.26 L582.59 705.8 L584.63 703.33 L586.68 700.87 L588.73 698.41 L590.78 695.97 L592.82 693.54 L594.87 691.12 L596.92 688.72 L598.97 686.35 L601.01 684 L603.06 681.67 L605.11 679.36 L607.16 677.06 L609.2 674.78 L611.25 672.5 L613.3 670.24 L615.35 667.97 L617.39 665.71 L619.44 663.45 L621.49 661.18 L623.54 658.91 L625.58 656.63 L627.63 654.33 L629.68 652.02 L631.73 649.69 L633.77 647.35 L635.82 644.97 L637.87 642.58 L639.92 640.15 L641.96 637.69 L644.01 635.2 L646.06 632.67 L648.11 630.1 L650.15 627.49 L652.2 624.84 L654.25 622.15 L656.3 619.41 L658.34 616.65 L660.39 613.84 L662.44 611.01 L664.49 608.14 L666.53 605.25 L668.58 602.33 L670.63 599.38 L672.68 596.41 L674.72 593.43 L676.77 590.42 L678.82 587.4 L680.87 584.36 L682.91 581.32 L684.96 578.26 L687.01 575.19 L689.06 572.12 L691.1 569.05 L693.15 565.92 L695.2 562.74 L697.25 559.52 L699.29 556.28 L701.34 553.02 L703.39 549.75 L705.44 546.5 L707.48 543.27 L709.53 540.08 L711.58 536.91 L713.63 533.74 L715.67 530.58 L717.72 527.43 L719.77 524.28 L721.82 521.14 L723.86 517.99 L725.91 514.86 L727.96 511.73 L730.01 508.6 L732.05 505.47 L734.1 502.35 L736.15 499.23 L738.2 496.12 L740.24 493.01 L742.29 489.9 L744.34 486.79 L746.39 483.69 L748.43 480.59 L750.48 477.49 L752.53 474.39 L754.58 471.3 L756.62 468.2 L758.67 465.11 L760.72 462.02 L762.77 458.93 L764.81 455.84 L766.86 452.75 L768.91 449.67 L770.96 446.58 L773 443.49 L775.05 440.41 L777.1 437.32 L779.15 434.23 L781.19 431.15 L783.24 428.06 L785.29 424.97 L787.34 421.88 L789.38 418.79 L791.43 415.7 L793.48 412.61 L795.53 409.51 L797.57 406.42 L799.62 403.32 L801.67 400.22 L803.72 397.11 L805.76 394.01 L807.81 390.9 L809.86 387.79 L811.91 384.68 L813.95 381.57 L816 378.45 L817.46 376.23" fill="none" stroke="#808000" stroke-width="1.3" stroke-linejoin="round"/>
</g>
<text x="14.4" y="43.5" font-size="31" text-anchor="start" >a.</text>
<text x="426.7" y="39.8" font-size="31" text-anchor="start" >b.</text>
<text x="16.1" y="415" font-size="31" text-anchor="start" >c.</text>
<text x="435.6" y="414.1" font-size="31" text-anchor="start" >d.</text>
<text x="138.5" y="34.1" font-size="22" text-anchor="start" >MeOH Sample C</text>
<text x="550.9" y="39.6" font-size="22" text-anchor="start" >Mn<tspan font-size="16.5" dy="4.1">12</tspan><tspan dy="-4.1">-ac Sample E</tspan></text>
<text x="114.8" y="420.1" font-size="22" text-anchor="start" >MeOH Sample C</text>
<text x="538.5" y="415.6" font-size="22" text-anchor="start" >Mn<tspan font-size="18.5" dy="4.1">12</tspan><tspan dy="-4.1">-ac Sample E</tspan></text>
<text x="219.75" y="382.5" font-size="20" text-anchor="middle" >T (K)</text>
<text x="633" y="378.4" font-size="20" text-anchor="middle" >T (K)</text>
<text x="232.8" y="827.3" font-size="20" text-anchor="middle" >T (K)</text>
<text x="648.7" y="826.5" font-size="20" text-anchor="middle" >T (K)</text>
<g transform="translate(0 0)">
<path d="M23.7 178.2L41.85 188.6" stroke="#000" stroke-width="2.35" fill="none"/>
<path d="M27.8 189.75C25.6 189.9 23.3 189.0 23.65 187.5C23.9 186.2 26.3 184.9 29.1 184.05C32 183.15 35.8 182.2 38.7 181.3C40.7 180.7 42.5 180.3 42.4 179.3C42.3 177.6 40.2 176.6 37.9 176.45" stroke="#000" stroke-width="1.4" fill="none" stroke-linecap="round"/>
<g transform="translate(37.3 191) rotate(-90)">
<text x="15.2" y="-16.9" font-size="16.5">-1</text>
<text x="37.3" y="0" font-size="19.8">(SI units)</text>
</g></g>
<g transform="translate(410 0)">
<path d="M23.7 178.2L41.85 188.6" stroke="#000" stroke-width="2.35" fill="none"/>
<path d="M27.8 189.75C25.6 189.9 23.3 189.0 23.65 187.5C23.9 186.2 26.3 184.9 29.1 184.05C32 183.15 35.8 182.2 38.7 181.3C40.7 180.7 42.5 180.3 42.4 179.3C42.3 177.6 40.2 176.6 37.9 176.45" stroke="#000" stroke-width="1.4" fill="none" stroke-linecap="round"/>
<g transform="translate(37.3 191) rotate(-90)">
<text x="15.2" y="-16.9" font-size="16.5">-1</text>
<text x="37.3" y="0" font-size="19.8">(SI units)</text>
</g></g>
<g transform="translate(11.8 456.8)">
<path d="M23.7 178.2L41.85 188.6" stroke="#000" stroke-width="2.35" fill="none"/>
<path d="M27.8 189.75C25.6 189.9 23.3 189.0 23.65 187.5C23.9 186.2 26.3 184.9 29.1 184.05C32 183.15 35.8 182.2 38.7 181.3C40.7 180.7 42.5 180.3 42.4 179.3C42.3 177.6 40.2 176.6 37.9 176.45" stroke="#000" stroke-width="1.4" fill="none" stroke-linecap="round"/>
<g transform="translate(37.3 191) rotate(-90)">
<text x="15.2" y="-16.9" font-size="16.5">-1</text>
<text x="37.3" y="0" font-size="20.3">(SI units)</text>
</g></g>
<g transform="translate(427.3 454.2)">
<path d="M23.7 178.2L41.85 188.6" stroke="#000" stroke-width="2.35" fill="none"/>
<path d="M27.8 189.75C25.6 189.9 23.3 189.0 23.65 187.5C23.9 186.2 26.3 184.9 29.1 184.05C32 183.15 35.8 182.2 38.7 181.3C40.7 180.7 42.5 180.3 42.4 179.3C42.3 177.6 40.2 176.6 37.9 176.45" stroke="#000" stroke-width="1.4" fill="none" stroke-linecap="round"/>
<g transform="translate(37.3 191) rotate(-90)">
<text x="15.2" y="-16.9" font-size="16.5">-1</text>
<text x="37.3" y="0" font-size="20.3">(SI units)</text>
</g></g>
<g transform="translate(0 0)">
<text x="90.4" y="116.9" font-size="19">H</text>
<path d="M104.8 122.1H116M110.4 122.1V111" stroke="#000" stroke-width="1.2" fill="none"/>
<text x="115.9" y="116.9" font-size="19">(T)</text>
</g>
<circle cx="79.9" cy="140.6" r="4.5" fill="none" stroke="#000000" stroke-width="1.7"/>
<text x="95.4" y="145.2" font-size="19" text-anchor="start" >0</text>
<polygon points="79.9,158.75 74.7,167.75 85.1,167.75" fill="none" stroke="#800080" stroke-width="1.8" stroke-linejoin="miter"/>
<text x="95.4" y="168.7" font-size="19" text-anchor="start" >1</text>
<polygon points="79.9,181.4 85.7,187.2 79.9,193 74.1,187.2" fill="none" stroke="#ff00ff" stroke-width="1.8"/>
<text x="95.4" y="192.2" font-size="19" text-anchor="start" >2</text>
<polygon points="79.9,205 81.46,208.75 85.51,209.08 82.43,211.72 83.37,215.67 79.9,213.56 76.43,215.67 77.37,211.72 74.29,209.08 78.34,208.75" fill="none" stroke="#808000" stroke-width="1.8" stroke-linejoin="bevel"/>
<text x="95.4" y="215.7" font-size="19" text-anchor="start" >3</text>
<polygon points="127.2,136 132.15,139.59 130.26,145.41 124.14,145.41 122.25,139.59" fill="none" stroke="#008000" stroke-width="1.8"/>
<text x="143.1" y="145.2" font-size="19" text-anchor="start" >4</text>
<circle cx="127.2" cy="164.4" r="5.3" fill="#fff" stroke="#0000ff" stroke-width="1.15"/><path d="M121.9 164.4 A5.3 5.3 0 0 1 132.5 164.4 Z" fill="#0000ff" stroke="#0000ff" stroke-width="1.15"/>
<text x="143.1" y="168.7" font-size="19" text-anchor="start" >5</text>
<path d="M121.25 181.15L133.15 193.05M121.25 193.05L133.15 181.15" stroke="#ff0000" stroke-width="2.7" fill="none" stroke-linecap="round"/>
<text x="143.1" y="192.2" font-size="19" text-anchor="start" >6</text>
<g transform="translate(672.4 128.6)">
<text x="90.4" y="116.9" font-size="19">H</text>
<path d="M104.8 122.1H116M110.4 122.1V111" stroke="#000" stroke-width="1.2" fill="none"/>
<text x="115.9" y="116.9" font-size="19">(T)</text>
</g>
<circle cx="752" cy="269.4" r="4.5" fill="none" stroke="#000000" stroke-width="1.7"/>
<text x="767.1" y="274" font-size="19" text-anchor="start" >0</text>
<polygon points="752,287.55 746.8,296.55 757.2,296.55" fill="none" stroke="#800080" stroke-width="1.8" stroke-linejoin="miter"/>
<text x="767.1" y="297.5" font-size="19" text-anchor="start" >1</text>
<polygon points="752,310.2 757.8,316 752,321.8 746.2,316" fill="none" stroke="#ff00ff" stroke-width="1.8"/>
<text x="767.1" y="321" font-size="19" text-anchor="start" >2</text>
<polygon points="798.8,263.3 800.36,267.05 804.41,267.38 801.33,270.02 802.27,273.97 798.8,271.85 795.33,273.97 796.27,270.02 793.19,267.38 797.24,267.05" fill="none" stroke="#808000" stroke-width="1.8" stroke-linejoin="bevel"/>
<text x="814.4" y="274" font-size="19" text-anchor="start" >3</text>
<polygon points="798.8,288.3 803.75,291.89 801.86,297.71 795.74,297.71 793.85,291.89" fill="none" stroke="#008000" stroke-width="1.8"/>
<text x="814.4" y="297.5" font-size="19" text-anchor="start" >4</text>
<circle cx="798.8" cy="316.7" r="5.3" fill="#fff" stroke="#0000ff" stroke-width="1.15"/><path d="M793.5 316.7 A5.3 5.3 0 0 1 804.1 316.7 Z" fill="#0000ff" stroke="#0000ff" stroke-width="1.15"/>
<text x="814.4" y="321" font-size="19" text-anchor="start" >5</text>
<g transform="translate(201.2 542.9)">
<text x="90.4" y="116.9" font-size="19">H</text>
<path d="M104.8 122.1H116M110.4 122.1V111" stroke="#000" stroke-width="1.2" fill="none"/>
<text x="115.9" y="116.9" font-size="19">(T)</text>
</g>
<circle cx="281.1" cy="683.8" r="4.5" fill="none" stroke="#000000" stroke-width="1.7"/>
<text x="296.6" y="688.4" font-size="19" text-anchor="start" >0.0</text>
<path d="M275.5 707.1L286.7 707.1M281.1 701.5L281.1 712.7" stroke="#ff0000" stroke-width="2.7" fill="none" stroke-linecap="round"/>
<text x="296.6" y="712.1" font-size="19" text-anchor="start" >0.5</text>
<polygon points="281.1,725.85 275.9,734.85 286.3,734.85" fill="none" stroke="#800080" stroke-width="1.8" stroke-linejoin="miter"/>
<text x="296.6" y="735.8" font-size="19" text-anchor="start" >1.0</text>
<circle cx="281.1" cy="755.2" r="5.3" fill="#fff" stroke="#800000" stroke-width="1.15"/><path d="M275.8 755.2 A5.3 5.3 0 0 1 286.4 755.2 Z" fill="#800000" stroke="#800000" stroke-width="1.15"/>
<text x="296.6" y="759.5" font-size="19" text-anchor="start" >1.5</text>
<polygon points="349.5,677.6 355.3,683.4 349.5,689.2 343.7,683.4" fill="none" stroke="#ff00ff" stroke-width="1.8"/>
<text x="364.9" y="688.4" font-size="19" text-anchor="start" >2.0</text>
<circle cx="349.5" cy="707.4" r="5.75" fill="url(#ball)"/>
<text x="364.9" y="712.1" font-size="19" text-anchor="start" >2.5</text>
<polygon points="349.5,725.1 351.06,728.85 355.11,729.18 352.03,731.82 352.97,735.77 349.5,733.65 346.03,735.77 346.97,731.82 343.89,729.18 347.94,728.85" fill="none" stroke="#808000" stroke-width="1.8" stroke-linejoin="bevel"/>
<text x="364.9" y="735.8" font-size="19" text-anchor="start" >3.0</text>
<g transform="translate(615.1 544.7)">
<text x="90.4" y="116.9" font-size="19">H</text>
<path d="M104.8 122.1H116M110.4 122.1V111" stroke="#000" stroke-width="1.2" fill="none"/>
<text x="115.9" y="116.9" font-size="19">(T)</text>
</g>
<circle cx="694.9" cy="686.4" r="4.5" fill="none" stroke="#000000" stroke-width="1.7"/>
<text x="710.8" y="691" font-size="19" text-anchor="start" >0.0</text>
<path d="M689.3 709.4L700.5 709.4M694.9 703.8L694.9 715" stroke="#ff0000" stroke-width="2.7" fill="none" stroke-linecap="round"/>
<text x="710.8" y="714.4" font-size="19" text-anchor="start" >0.5</text>
<polygon points="694.9,727.85 689.7,736.85 700.1,736.85" fill="none" stroke="#800080" stroke-width="1.8" stroke-linejoin="miter"/>
<text x="710.8" y="737.8" font-size="19" text-anchor="start" >1.0</text>
<circle cx="694.9" cy="756.9" r="5.3" fill="#fff" stroke="#800000" stroke-width="1.15"/><path d="M689.6 756.9 A5.3 5.3 0 0 1 700.2 756.9 Z" fill="#800000" stroke="#800000" stroke-width="1.15"/>
<text x="710.8" y="761.2" font-size="19" text-anchor="start" >1.5</text>
<polygon points="763.1,680.2 768.9,686 763.1,691.8 757.3,686" fill="none" stroke="#ff00ff" stroke-width="1.8"/>
<text x="778.9" y="691" font-size="19" text-anchor="start" >2.0</text>
<circle cx="763.1" cy="709.7" r="5.75" fill="url(#ball)"/>
<text x="778.9" y="714.4" font-size="19" text-anchor="start" >2.5</text>
<polygon points="763.1,727.1 764.66,730.85 768.71,731.18 765.63,733.82 766.57,737.77 763.1,735.65 759.63,737.77 760.57,733.82 757.49,731.18 761.54,730.85" fill="none" stroke="#808000" stroke-width="1.8" stroke-linejoin="bevel"/>
<text x="778.9" y="737.8" font-size="19" text-anchor="start" >3.0</text>
</svg>
</div>
</body></html>
